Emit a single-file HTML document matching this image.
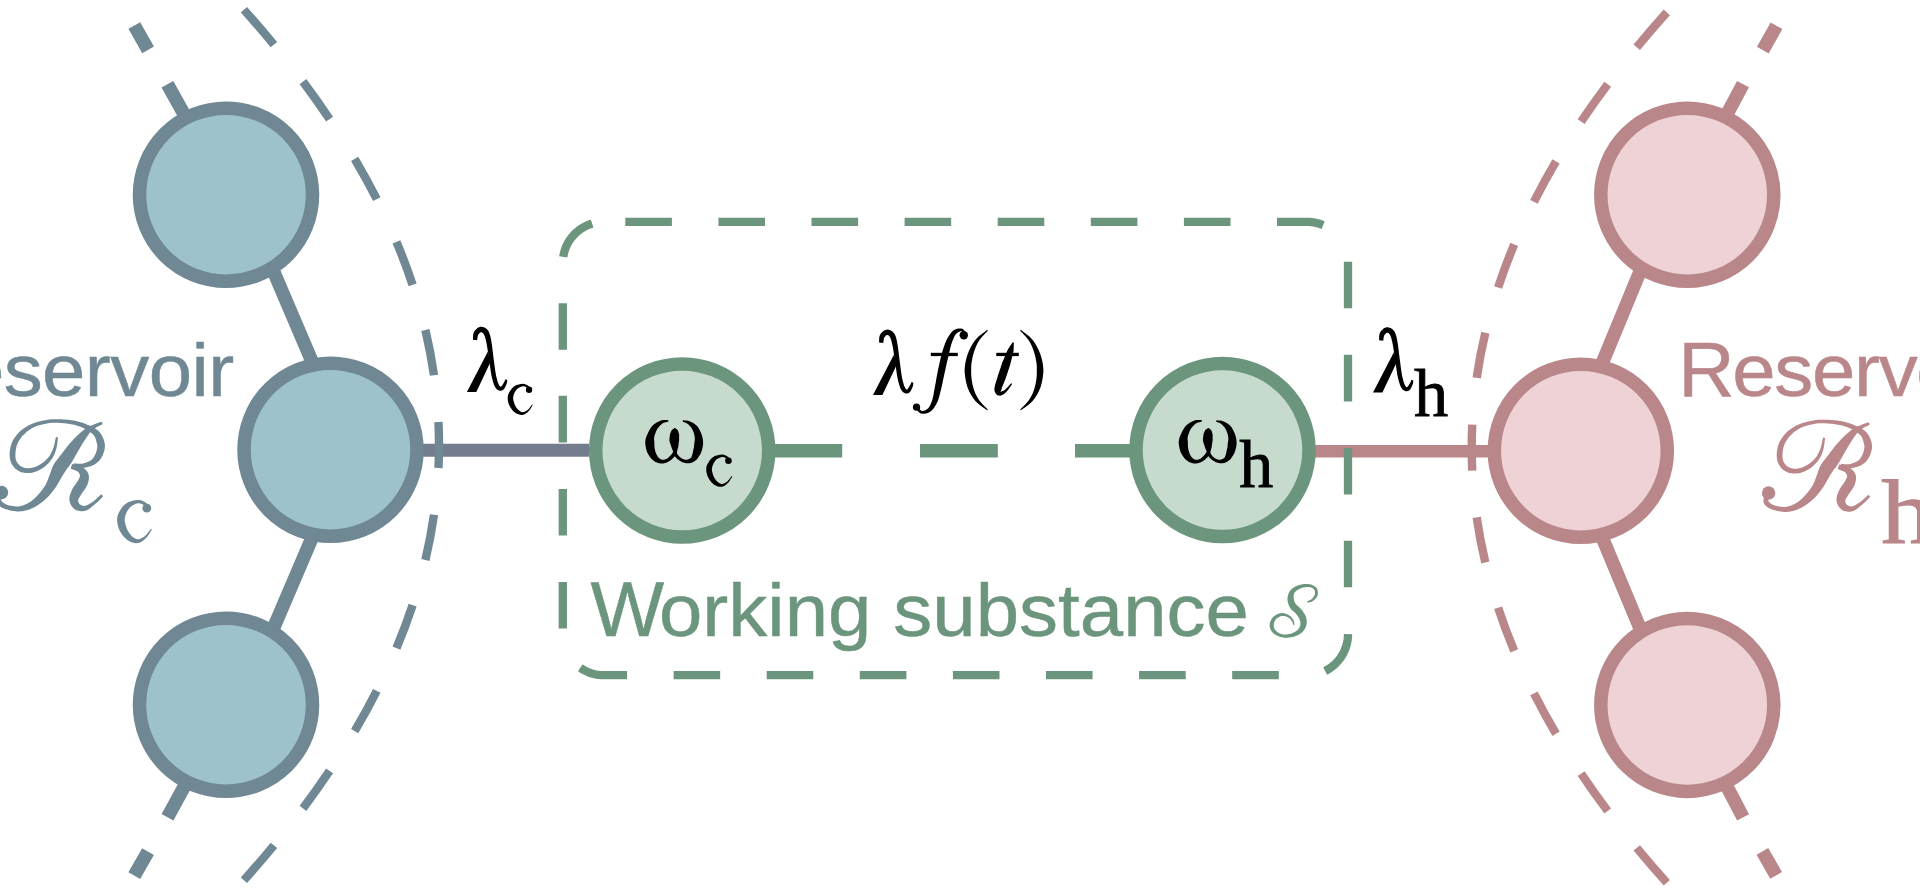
<!DOCTYPE html><html><head><meta charset="utf-8"><style>html,body{margin:0;padding:0;background:#fff;overflow:hidden}svg{display:block}</style></head><body><svg width="1920" height="891" viewBox="0 0 1920 891">
<rect width="1920" height="891" fill="#fff"/>
<path d="M423 450.3H589" stroke="#737d8e" stroke-width="13"/>
<g fill="none" stroke="#6f8893" stroke-width="8.4" stroke-dasharray="46 47" stroke-dashoffset="23">
<path d="M439 445 Q439 210 211.47 -25"/><path d="M439 445 Q439 680 211.47 915"/></g>
<g stroke="#6f8893" stroke-width="13.5" fill="none">
<path d="M240.8 194.7L349.7 449.7L240.8 704.7"/>
<path d="M229 194.7L167.4 84.3M148.1 49.9L134.3 25.5"/>
<path d="M229 704.7L167.5 817.3M148 851.7L134.3 875.7"/>
</g>
<circle cx="226" cy="194.7" r="86.5" fill="#9ec2cb" stroke="#6f8893" stroke-width="13.5"/>
<circle cx="330.5" cy="449.7" r="86.5" fill="#9ec2cb" stroke="#6f8893" stroke-width="13.5"/>
<circle cx="226" cy="704.7" r="86.5" fill="#9ec2cb" stroke="#6f8893" stroke-width="13.5"/>
<g fill="none" stroke="#b9878a" stroke-width="8.4" stroke-dasharray="46 47" stroke-dashoffset="23">
<path d="M1471.7 447.6 Q1471.7 212.6 1699.23 -22.4"/><path d="M1471.7 447.6 Q1471.7 682.6 1699.23 917.6"/></g>
<g stroke="#b9878a" stroke-width="13.5" fill="none">
<path d="M1671.8 194.7L1566 450.7L1672 704.9"/>
<path d="M1684 194.7L1743 84.1M1762.8 50.1L1776.5 25.7"/>
<path d="M1684 704.9L1743.1 817.3M1762.4 851.3L1776.1 875.4"/>
</g>
<path d="M1315 451.2H1488" stroke="#b9878a" stroke-width="12.5"/>
<circle cx="1687.3" cy="194.7" r="86.5" fill="#eed2d5" stroke="#b9878a" stroke-width="13.5"/>
<circle cx="1580.8" cy="450.7" r="86.5" fill="#eed2d5" stroke="#b9878a" stroke-width="13.5"/>
<circle cx="1687.3" cy="704.9" r="86.5" fill="#eed2d5" stroke="#b9878a" stroke-width="13.5"/>
<path d="M775 450.8H842.2M920 450.8H997.8M1075 450.8H1130" stroke="#6b957c" stroke-width="13.5"/>
<circle cx="682.2" cy="450.5" r="86.5" fill="#c6dbce" stroke="#6b957c" stroke-width="13.5"/>
<circle cx="1222.5" cy="450" r="86.5" fill="#c6dbce" stroke="#6b957c" stroke-width="13.5"/>
<path d="M563.24 256.92 L563.58 254.93 L564.03 252.95 L564.57 251 L565.2 249.07 L565.93 247.18 L566.75 245.33 L567.67 243.52 L568.67 241.76 L569.76 240.05 L570.93 238.4 L572.18 236.8 L573.5 235.27 L574.91 233.81 L576.38 232.42 L577.92 231.1 L579.52 229.86 L581.18 228.7 L582.9 227.63 L584.67 226.64 L586.48 225.74 L588.34 224.93 L590.23 224.21 L592.16 223.59M625.3 221.9 L627.33 221.9 L629.35 221.9 L631.38 221.9 L633.4 221.9 L635.43 221.9 L637.46 221.9 L639.48 221.9 L641.51 221.9 L643.53 221.9 L645.56 221.9 L647.59 221.9 L649.61 221.9 L651.64 221.9 L653.67 221.9 L655.69 221.9 L657.72 221.9 L659.74 221.9 L661.77 221.9 L663.8 221.9 L665.82 221.9 L667.85 221.9 L669.87 221.9 L671.9 221.9M718.4 221.9 L720.43 221.9 L722.45 221.9 L724.48 221.9 L726.5 221.9 L728.53 221.9 L730.56 221.9 L732.58 221.9 L734.61 221.9 L736.63 221.9 L738.66 221.9 L740.69 221.9 L742.71 221.9 L744.74 221.9 L746.77 221.9 L748.79 221.9 L750.82 221.9 L752.84 221.9 L754.87 221.9 L756.9 221.9 L758.92 221.9 L760.95 221.9 L762.97 221.9 L765 221.9M811.5 221.9 L813.53 221.9 L815.55 221.9 L817.58 221.9 L819.6 221.9 L821.63 221.9 L823.66 221.9 L825.68 221.9 L827.71 221.9 L829.73 221.9 L831.76 221.9 L833.79 221.9 L835.81 221.9 L837.84 221.9 L839.87 221.9 L841.89 221.9 L843.92 221.9 L845.94 221.9 L847.97 221.9 L850 221.9 L852.02 221.9 L854.05 221.9 L856.07 221.9 L858.1 221.9M904.6 221.9 L906.63 221.9 L908.65 221.9 L910.68 221.9 L912.7 221.9 L914.73 221.9 L916.76 221.9 L918.78 221.9 L920.81 221.9 L922.83 221.9 L924.86 221.9 L926.89 221.9 L928.91 221.9 L930.94 221.9 L932.97 221.9 L934.99 221.9 L937.02 221.9 L939.04 221.9 L941.07 221.9 L943.1 221.9 L945.12 221.9 L947.15 221.9 L949.17 221.9 L951.2 221.9M997.7 221.9 L999.73 221.9 L1001.75 221.9 L1003.78 221.9 L1005.8 221.9 L1007.83 221.9 L1009.86 221.9 L1011.88 221.9 L1013.91 221.9 L1015.93 221.9 L1017.96 221.9 L1019.99 221.9 L1022.01 221.9 L1024.04 221.9 L1026.07 221.9 L1028.09 221.9 L1030.12 221.9 L1032.14 221.9 L1034.17 221.9 L1036.2 221.9 L1038.22 221.9 L1040.25 221.9 L1042.27 221.9 L1044.3 221.9M1090.8 221.9 L1092.83 221.9 L1094.85 221.9 L1096.88 221.9 L1098.9 221.9 L1100.93 221.9 L1102.96 221.9 L1104.98 221.9 L1107.01 221.9 L1109.03 221.9 L1111.06 221.9 L1113.09 221.9 L1115.11 221.9 L1117.14 221.9 L1119.17 221.9 L1121.19 221.9 L1123.22 221.9 L1125.24 221.9 L1127.27 221.9 L1129.3 221.9 L1131.32 221.9 L1133.35 221.9 L1135.37 221.9 L1137.4 221.9M1183.9 221.9 L1185.93 221.9 L1187.95 221.9 L1189.98 221.9 L1192 221.9 L1194.03 221.9 L1196.06 221.9 L1198.08 221.9 L1200.11 221.9 L1202.13 221.9 L1204.16 221.9 L1206.19 221.9 L1208.21 221.9 L1210.24 221.9 L1212.27 221.9 L1214.29 221.9 L1216.32 221.9 L1218.34 221.9 L1220.37 221.9 L1222.4 221.9 L1224.42 221.9 L1226.45 221.9 L1228.47 221.9 L1230.5 221.9M1277 221.9 L1279.03 221.9 L1281.05 221.9 L1283.08 221.9 L1285.1 221.9 L1287.13 221.9 L1289.16 221.9 L1291.18 221.9 L1293.21 221.9 L1295.23 221.9 L1297.26 221.9 L1299.29 221.9 L1301.31 221.9 L1303.34 221.9 L1305.37 221.9 L1307.39 221.9 L1309.42 221.97 L1311.43 222.14 L1313.44 222.41 L1315.43 222.78 L1317.41 223.24 L1319.35 223.81 L1321.27 224.46 L1323.15 225.21M1347.98 261.7 L1348 263.73 L1348 265.75 L1348 267.78 L1348 269.8 L1348 271.83 L1348 273.86 L1348 275.88 L1348 277.91 L1348 279.93 L1348 281.96 L1348 283.99 L1348 286.01 L1348 288.04 L1348 290.07 L1348 292.09 L1348 294.12 L1348 296.14 L1348 298.17 L1348 300.2 L1348 302.22 L1348 304.25 L1348 306.27 L1348 308.3M1348 354.8 L1348 356.83 L1348 358.85 L1348 360.88 L1348 362.9 L1348 364.93 L1348 366.96 L1348 368.98 L1348 371.01 L1348 373.03 L1348 375.06 L1348 377.09 L1348 379.11 L1348 381.14 L1348 383.17 L1348 385.19 L1348 387.22 L1348 389.24 L1348 391.27 L1348 393.3 L1348 395.32 L1348 397.35 L1348 399.37 L1348 401.4M1348 447.9 L1348 449.93 L1348 451.95 L1348 453.98 L1348 456 L1348 458.03 L1348 460.06 L1348 462.08 L1348 464.11 L1348 466.13 L1348 468.16 L1348 470.19 L1348 472.21 L1348 474.24 L1348 476.27 L1348 478.29 L1348 480.32 L1348 482.34 L1348 484.37 L1348 486.4 L1348 488.42 L1348 490.45 L1348 492.47 L1348 494.5M1348 540.7 L1348 542.73 L1348 544.75 L1348 546.78 L1348 548.8 L1348 550.83 L1348 552.86 L1348 554.88 L1348 556.91 L1348 558.93 L1348 560.96 L1348 562.99 L1348 565.01 L1348 567.04 L1348 569.07 L1348 571.09 L1348 573.12 L1348 575.14 L1348 577.17 L1348 579.2 L1348 581.22 L1348 583.25 L1348 585.27 L1348 587.3M1348 634.2 L1347.95 636.27 L1347.79 638.34 L1347.53 640.39 L1347.16 642.43 L1346.7 644.45 L1346.13 646.45 L1345.46 648.41 L1344.69 650.33 L1343.83 652.22 L1342.87 654.06 L1341.82 655.84 L1340.68 657.57 L1339.46 659.25 L1338.15 660.86 L1336.77 662.4 L1335.3 663.86 L1333.77 665.26 L1332.16 666.57 L1330.5 667.8 L1328.77 668.94 L1326.99 670 L1325.15 670.96M1278.8 675.2 L1276.77 675.2 L1274.75 675.2 L1272.72 675.2 L1270.7 675.2 L1268.67 675.2 L1266.64 675.2 L1264.62 675.2 L1262.59 675.2 L1260.57 675.2 L1258.54 675.2 L1256.51 675.2 L1254.49 675.2 L1252.46 675.2 L1250.43 675.2 L1248.41 675.2 L1246.38 675.2 L1244.36 675.2 L1242.33 675.2 L1240.3 675.2 L1238.28 675.2 L1236.25 675.2 L1234.23 675.2 L1232.2 675.2M1185.7 675.2 L1183.67 675.2 L1181.65 675.2 L1179.62 675.2 L1177.6 675.2 L1175.57 675.2 L1173.54 675.2 L1171.52 675.2 L1169.49 675.2 L1167.47 675.2 L1165.44 675.2 L1163.41 675.2 L1161.39 675.2 L1159.36 675.2 L1157.33 675.2 L1155.31 675.2 L1153.28 675.2 L1151.26 675.2 L1149.23 675.2 L1147.2 675.2 L1145.18 675.2 L1143.15 675.2 L1141.13 675.2 L1139.1 675.2M1092.6 675.2 L1090.57 675.2 L1088.55 675.2 L1086.52 675.2 L1084.5 675.2 L1082.47 675.2 L1080.44 675.2 L1078.42 675.2 L1076.39 675.2 L1074.37 675.2 L1072.34 675.2 L1070.31 675.2 L1068.29 675.2 L1066.26 675.2 L1064.23 675.2 L1062.21 675.2 L1060.18 675.2 L1058.16 675.2 L1056.13 675.2 L1054.1 675.2 L1052.08 675.2 L1050.05 675.2 L1048.03 675.2 L1046 675.2M999.5 675.2 L997.47 675.2 L995.45 675.2 L993.42 675.2 L991.4 675.2 L989.37 675.2 L987.34 675.2 L985.32 675.2 L983.29 675.2 L981.27 675.2 L979.24 675.2 L977.21 675.2 L975.19 675.2 L973.16 675.2 L971.13 675.2 L969.11 675.2 L967.08 675.2 L965.06 675.2 L963.03 675.2 L961 675.2 L958.98 675.2 L956.95 675.2 L954.93 675.2 L952.9 675.2M906.4 675.2 L904.37 675.2 L902.35 675.2 L900.32 675.2 L898.3 675.2 L896.27 675.2 L894.24 675.2 L892.22 675.2 L890.19 675.2 L888.17 675.2 L886.14 675.2 L884.11 675.2 L882.09 675.2 L880.06 675.2 L878.03 675.2 L876.01 675.2 L873.98 675.2 L871.96 675.2 L869.93 675.2 L867.9 675.2 L865.88 675.2 L863.85 675.2 L861.83 675.2 L859.8 675.2M813.3 675.2 L811.27 675.2 L809.25 675.2 L807.22 675.2 L805.2 675.2 L803.17 675.2 L801.14 675.2 L799.12 675.2 L797.09 675.2 L795.07 675.2 L793.04 675.2 L791.01 675.2 L788.99 675.2 L786.96 675.2 L784.93 675.2 L782.91 675.2 L780.88 675.2 L778.86 675.2 L776.83 675.2 L774.8 675.2 L772.78 675.2 L770.75 675.2 L768.73 675.2 L766.7 675.2M720.2 675.2 L718.17 675.2 L716.15 675.2 L714.12 675.2 L712.1 675.2 L710.07 675.2 L708.04 675.2 L706.02 675.2 L703.99 675.2 L701.97 675.2 L699.94 675.2 L697.91 675.2 L695.89 675.2 L693.86 675.2 L691.83 675.2 L689.81 675.2 L687.78 675.2 L685.76 675.2 L683.73 675.2 L681.7 675.2 L679.68 675.2 L677.65 675.2 L675.63 675.2 L673.6 675.2M627.1 675.2 L625.09 675.2 L623.07 675.2 L621.06 675.2 L619.05 675.2 L617.04 675.2 L615.02 675.2 L613.01 675.2 L611 675.2 L608.99 675.2 L606.98 675.2 L604.96 675.2 L602.95 675.19 L600.94 675.1 L598.94 674.91 L596.94 674.62 L594.97 674.24 L593.02 673.76 L591.09 673.18 L589.19 672.51 L587.33 671.75 L585.51 670.89 L583.73 669.95 L582 668.92 L580.32 667.81M562.8 628.6 L562.8 626.57 L562.8 624.55 L562.8 622.52 L562.8 620.5 L562.8 618.47 L562.8 616.44 L562.8 614.42 L562.8 612.39 L562.8 610.37 L562.8 608.34 L562.8 606.31 L562.8 604.29 L562.8 602.26 L562.8 600.23 L562.8 598.21 L562.8 596.18 L562.8 594.16 L562.8 592.13 L562.8 590.1 L562.8 588.08 L562.8 586.05 L562.8 584.03 L562.8 582M562.8 535.6 L562.8 533.57 L562.8 531.55 L562.8 529.52 L562.8 527.5 L562.8 525.47 L562.8 523.44 L562.8 521.42 L562.8 519.39 L562.8 517.37 L562.8 515.34 L562.8 513.31 L562.8 511.29 L562.8 509.26 L562.8 507.23 L562.8 505.21 L562.8 503.18 L562.8 501.16 L562.8 499.13 L562.8 497.1 L562.8 495.08 L562.8 493.05 L562.8 491.03 L562.8 489M562.8 442.4 L562.8 440.37 L562.8 438.35 L562.8 436.32 L562.8 434.3 L562.8 432.27 L562.8 430.24 L562.8 428.22 L562.8 426.19 L562.8 424.17 L562.8 422.14 L562.8 420.11 L562.8 418.09 L562.8 416.06 L562.8 414.03 L562.8 412.01 L562.8 409.98 L562.8 407.96 L562.8 405.93 L562.8 403.9 L562.8 401.88 L562.8 399.85 L562.8 397.83 L562.8 395.8M562.8 349.8 L562.8 347.77 L562.8 345.75 L562.8 343.72 L562.8 341.7 L562.8 339.67 L562.8 337.64 L562.8 335.62 L562.8 333.59 L562.8 331.57 L562.8 329.54 L562.8 327.51 L562.8 325.49 L562.8 323.46 L562.8 321.43 L562.8 319.41 L562.8 317.38 L562.8 315.36 L562.8 313.33 L562.8 311.3 L562.8 309.28 L562.8 307.25 L562.8 305.23 L562.8 303.2" fill="none" stroke="#6b957c" stroke-width="8.3"/>
<g font-family='"Liberation Sans", sans-serif' font-size="78" stroke-width="0.5">
<text x="-94.84" y="396.3" letter-spacing="-0.59" fill="#6f8893" stroke="#6f8893" transform="translate(0 396.3) scale(1 0.955) translate(0 -396.3)">Reservoir</text>
<text x="1678.25" y="395.6" fill="#b9878a" stroke="#b9878a">R</text>
<text x="1732.34" y="395.6" letter-spacing="-1.335" fill="#b9878a" stroke="#b9878a" transform="translate(0 395.6) scale(1 0.955) translate(0 -395.6)">eservoir</text>
<text x="590.4" y="636.3" fill="#6b957c" stroke="#6b957c">W</text>
<text x="658.95" y="636.3" letter-spacing="0.03" fill="#6b957c" stroke="#6b957c" transform="translate(0 636.3) scale(1 0.955) translate(0 -636.3)">orking substance</text>
</g>
<g transform="translate(-1767.1 -0.5)" fill="#6f8893"><path d="M1823.05 437.6 L1822.71 439.09 L1822.39 440.6 L1822.08 442.11 L1821.77 443.6 L1821.44 445.06 L1821.08 446.47 L1820.67 447.82 L1820.21 449.11 L1819.72 450.38 L1819.2 451.62 L1818.65 452.82 L1818.07 453.97 L1817.44 455.08 L1816.76 456.16 L1816.02 457.2 L1815.21 458.21 L1814.3 459.22 L1813.3 460.24 L1812.22 461.24 L1811.08 462.22 L1809.91 463.14 L1808.72 464.01 L1807.52 464.79 L1806.35 465.48 L1805.18 466.11 L1803.98 466.69 L1802.75 467.22 L1801.51 467.67 L1800.28 468.06 L1799.07 468.36 L1797.9 468.58 L1796.78 468.7 L1795.66 468.74 L1794.51 468.71 L1793.36 468.59 L1792.23 468.4 L1791.13 468.15 L1790.1 467.82 L1789.15 467.45 L1788.32 467.03 L1787.56 466.55 L1786.82 465.97 L1786.11 465.32 L1785.44 464.59 L1784.82 463.81 L1784.27 463 L1783.79 462.17 L1783.4 461.36 L1783.09 460.56 L1782.86 459.7 L1782.68 458.79 L1782.57 457.82 L1782.5 456.79 L1782.49 455.72 L1782.53 454.62 L1782.61 453.49 L1782.68 452.33 L1782.79 451.13 L1782.96 449.92 L1783.17 448.7 L1783.45 447.49 L1783.79 446.29 L1784.19 445.13 L1784.67 443.99 L1785.23 442.81 L1785.88 441.6 L1786.6 440.39 L1787.4 439.19 L1788.26 438 L1789.19 436.85 L1790.17 435.74 L1791.22 434.68 L1792.33 433.63 L1793.52 432.6 L1794.78 431.6 L1796.11 430.63 L1797.5 429.7 L1798.96 428.83 L1800.46 428.01 L1802.02 427.26 L1803.68 426.61 L1805.47 426.01 L1807.35 425.46 L1809.28 424.96 L1811.24 424.52 L1813.19 424.13 L1815.09 423.8 L1816.91 423.52 L1818.65 423.36 L1820.36 423.27 L1822.04 423.25 L1823.71 423.28 L1825.36 423.35 L1827 423.45 L1828.64 423.57 L1830.26 423.7 L1831.86 423.84 L1833.43 424.01 L1834.99 424.21 L1836.52 424.44 L1838.02 424.69 L1839.49 424.97 L1840.92 425.28 L1842.32 425.62 L1843.67 426 L1844.97 426.4 L1846.24 426.83 L1847.47 427.29 L1848.68 427.78 L1849.87 428.3 L1851.06 428.86 L1852.25 429.47 L1853.46 430.17 L1854.71 430.93 L1855.95 431.72 L1857.16 432.53 L1858.3 433.36 L1859.32 434.19 L1860.2 434.99 L1860.9 435.73 L1861.43 436.43 L1861.86 437.15 L1862.22 437.88 L1862.53 438.65 L1862.8 439.45 L1863.04 440.3 L1863.27 441.19 L1863.48 442.1 L1863.75 442.92 L1863.97 443.68 L1864.14 444.4 L1864.27 445.09 L1864.35 445.77 L1864.39 446.44 L1864.38 447.13 L1864.32 447.86 L1864.24 448.68 L1864.09 449.6 L1863.88 450.59 L1863.62 451.59 L1863.31 452.59 L1862.96 453.55 L1862.59 454.45 L1862.19 455.26 L1861.8 456.07 L1861.38 456.85 L1860.93 457.59 L1860.45 458.29 L1859.92 458.95 L1859.35 459.58 L1858.72 460.17 L1858.01 460.73 L1857.19 461.27 L1856.22 461.79 L1855.14 462.3 L1853.98 462.77 L1852.78 463.19 L1851.58 463.57 L1850.42 463.89 L1849.34 464.14 L1848.36 464.27 L1847.4 464.32 L1846.42 464.31 L1845.41 464.24 L1844.37 464.14 L1843.29 464.03 L1842.17 463.93 L1841.06 463.87 L1840.74 467.33 L1841.79 467.47 L1842.81 467.64 L1843.86 467.83 L1844.95 468.02 L1846.1 468.19 L1847.3 468.3 L1848.56 468.33 L1849.86 468.26 L1851.18 468.13 L1852.55 467.94 L1853.96 467.69 L1855.39 467.37 L1856.8 466.99 L1858.19 466.55 L1859.53 466.05 L1860.79 465.47 L1861.96 464.83 L1863.05 464.11 L1864.07 463.34 L1865.02 462.51 L1865.9 461.63 L1866.72 460.7 L1867.48 459.75 L1868.21 458.74 L1868.87 457.61 L1869.48 456.4 L1870.03 455.15 L1870.53 453.87 L1870.97 452.58 L1871.35 451.28 L1871.65 450 L1871.88 448.74 L1871.99 447.5 L1872 446.28 L1871.94 445.09 L1871.8 443.94 L1871.59 442.83 L1871.34 441.76 L1871.04 440.71 L1870.72 439.7 L1870.3 438.74 L1869.86 437.75 L1869.35 436.69 L1868.77 435.6 L1868.09 434.5 L1867.3 433.39 L1866.37 432.3 L1865.3 431.27 L1864.11 430.31 L1862.82 429.43 L1861.46 428.59 L1860.05 427.8 L1858.61 427.06 L1857.16 426.36 L1855.73 425.72 L1854.35 425.13 L1853.01 424.55 L1851.66 424.01 L1850.31 423.52 L1848.95 423.06 L1847.58 422.64 L1846.18 422.26 L1844.75 421.91 L1843.28 421.58 L1841.78 421.27 L1840.24 420.98 L1838.67 420.72 L1837.08 420.5 L1835.47 420.31 L1833.84 420.14 L1832.19 420.01 L1830.54 419.9 L1828.88 419.81 L1827.21 419.73 L1825.5 419.67 L1823.77 419.64 L1822 419.65 L1820.19 419.72 L1818.35 419.86 L1816.49 420.08 L1814.57 420.32 L1812.57 420.63 L1810.53 420.99 L1808.47 421.41 L1806.41 421.9 L1804.39 422.45 L1802.44 423.06 L1800.58 423.74 L1798.8 424.45 L1797.07 425.23 L1795.4 426.08 L1793.79 427 L1792.24 427.96 L1790.75 428.98 L1789.33 430.03 L1787.98 431.12 L1786.7 432.29 L1785.48 433.52 L1784.33 434.81 L1783.25 436.13 L1782.25 437.48 L1781.33 438.85 L1780.49 440.22 L1779.73 441.61 L1779.06 443.06 L1778.5 444.53 L1778.03 446.01 L1777.65 447.49 L1777.34 448.94 L1777.11 450.37 L1776.92 451.76 L1776.79 453.11 L1776.75 454.44 L1776.75 455.77 L1776.81 457.11 L1776.95 458.45 L1777.16 459.78 L1777.46 461.09 L1777.88 462.39 L1778.4 463.64 L1779.03 464.83 L1779.76 465.98 L1780.57 467.08 L1781.47 468.14 L1782.46 469.13 L1783.52 470.04 L1784.67 470.86 L1785.88 471.57 L1787.16 472.16 L1788.5 472.64 L1789.9 473.02 L1791.34 473.31 L1792.8 473.5 L1794.28 473.6 L1795.76 473.6 L1797.22 473.5 L1798.69 473.28 L1800.16 472.97 L1801.62 472.55 L1803.08 472.05 L1804.52 471.47 L1805.93 470.82 L1807.31 470.1 L1808.65 469.32 L1809.96 468.45 L1811.26 467.48 L1812.55 466.44 L1813.8 465.34 L1815.01 464.2 L1816.15 463.01 L1817.22 461.81 L1818.19 460.59 L1819.07 459.35 L1819.85 458.09 L1820.55 456.8 L1821.18 455.5 L1821.75 454.18 L1822.26 452.85 L1822.74 451.49 L1823.19 450.09 L1823.57 448.62 L1823.89 447.11 L1824.14 445.59 L1824.36 444.05 L1824.55 442.52 L1824.73 440.99 L1824.93 439.49 L1825.15 438Z"/><path d="M1868.77 422.13 L1867.82 422.48 L1866.86 422.81 L1865.9 423.15 L1864.92 423.49 L1863.94 423.85 L1862.96 424.22 L1861.98 424.61 L1861.02 425.03 L1860.09 425.38 L1859.18 425.72 L1858.26 426.07 L1857.32 426.46 L1856.34 426.91 L1855.33 427.44 L1854.28 428.07 L1853.19 428.82 L1852.01 429.61 L1850.8 430.5 L1849.59 431.47 L1848.36 432.49 L1847.13 433.55 L1845.92 434.63 L1844.73 435.71 L1843.56 436.78 L1842.45 437.91 L1841.34 439.06 L1840.26 440.23 L1839.19 441.41 L1838.12 442.6 L1837.06 443.81 L1836.01 445.03 L1834.94 446.27 L1833.88 447.61 L1832.81 449 L1831.75 450.41 L1830.7 451.81 L1829.67 453.19 L1828.67 454.51 L1827.71 455.76 L1826.82 456.87 L1826.12 457.85 L1825.46 458.7 L1824.77 459.56 L1824.01 460.51 L1823.16 461.6 L1822.25 462.86 L1821.29 464.32 L1820.27 466.04 L1819.41 468.11 L1818.56 470.35 L1817.72 472.67 L1816.89 475.03 L1816.06 477.35 L1815.25 479.57 L1814.46 481.58 L1813.7 483.35 L1812.85 484.91 L1811.98 486.4 L1811.11 487.78 L1810.24 489.1 L1809.34 490.36 L1808.4 491.59 L1807.4 492.81 L1806.34 494.04 L1805.22 495.29 L1804.06 496.52 L1802.86 497.73 L1801.63 498.89 L1800.39 499.99 L1799.14 501.01 L1797.89 501.95 L1796.64 502.78 L1795.35 503.54 L1794.02 504.24 L1792.67 504.87 L1791.29 505.43 L1789.9 505.92 L1788.5 506.33 L1787.11 506.66 L1785.74 506.91 L1784.34 506.97 L1782.86 506.93 L1781.31 506.79 L1779.75 506.57 L1778.22 506.29 L1776.75 505.98 L1775.4 505.64 L1774.2 505.32 L1773.21 504.93 L1772.33 504.52 L1771.55 504.08 L1770.86 503.62 L1770.25 503.16 L1769.73 502.69 L1769.29 502.24 L1768.95 501.83 L1768.72 501.57 L1768.58 501.37 L1768.48 501.17 L1768.4 500.93 L1768.35 500.62 L1768.32 500.24 L1768.32 499.77 L1768.34 499.32 L1768.36 498.94 L1768.44 498.52 L1768.59 498.02 L1768.8 497.46 L1769.05 496.84 L1769.33 496.18 L1769.61 495.48 L1769.86 494.8 L1766.14 493.2 L1765.85 493.78 L1765.53 494.35 L1765.18 494.96 L1764.82 495.61 L1764.47 496.3 L1764.13 497.05 L1763.85 497.86 L1763.66 498.68 L1763.56 499.41 L1763.5 500.11 L1763.48 500.87 L1763.53 501.69 L1763.7 502.57 L1764.01 503.47 L1764.47 504.36 L1765.05 505.17 L1765.73 505.84 L1766.47 506.48 L1767.3 507.1 L1768.21 507.7 L1769.22 508.27 L1770.33 508.8 L1771.53 509.28 L1772.8 509.68 L1774.14 510.11 L1775.62 510.53 L1777.22 510.93 L1778.92 511.29 L1780.68 511.59 L1782.48 511.81 L1784.29 511.92 L1786.06 511.89 L1787.79 511.82 L1789.52 511.64 L1791.25 511.36 L1792.97 510.99 L1794.69 510.53 L1796.4 509.98 L1798.09 509.34 L1799.76 508.62 L1801.43 507.79 L1803.09 506.85 L1804.72 505.83 L1806.32 504.74 L1807.87 503.59 L1809.39 502.4 L1810.85 501.18 L1812.26 499.96 L1813.61 498.72 L1814.92 497.46 L1816.19 496.15 L1817.44 494.79 L1818.66 493.36 L1819.87 491.84 L1821.07 490.22 L1822.3 488.45 L1823.65 486.49 L1824.98 484.33 L1826.27 482.1 L1827.52 479.86 L1828.73 477.69 L1829.89 475.68 L1830.96 473.95 L1831.93 472.56 L1832.63 471.4 L1833.26 470.43 L1833.86 469.6 L1834.48 468.81 L1835.17 467.95 L1835.96 466.97 L1836.84 465.83 L1837.78 464.53 L1838.62 463.09 L1839.46 461.63 L1840.3 460.15 L1841.15 458.65 L1842 457.16 L1842.83 455.69 L1843.65 454.28 L1844.46 452.93 L1845.23 451.57 L1846.01 450.22 L1846.78 448.89 L1847.54 447.59 L1848.3 446.32 L1849.07 445.07 L1849.85 443.84 L1850.64 442.62 L1851.43 441.34 L1852.25 440.05 L1853.08 438.77 L1853.92 437.51 L1854.74 436.31 L1855.54 435.17 L1856.3 434.12 L1857.01 433.18 L1857.73 432.42 L1858.41 431.75 L1859.08 431.15 L1859.76 430.58 L1860.46 430.04 L1861.19 429.5 L1861.97 428.95 L1862.78 428.37 L1863.61 427.85 L1864.45 427.36 L1865.32 426.87 L1866.2 426.4 L1867.1 425.92 L1868.01 425.44 L1868.92 424.96 L1869.83 424.47Z"/><path d="M1837.74 469.08 L1838.86 469.56 L1840.03 470 L1841.18 470.43 L1842.26 470.84 L1843.25 471.25 L1844.1 471.67 L1844.78 472.09 L1845.29 472.52 L1845.73 473.06 L1846.16 473.66 L1846.53 474.28 L1846.81 474.89 L1847.01 475.48 L1847.11 476.01 L1847.12 476.46 L1847.05 476.78 L1846.98 477.04 L1846.87 477.36 L1846.71 477.78 L1846.48 478.32 L1846.18 478.95 L1845.81 479.67 L1845.37 480.47 L1844.92 481.23 L1844.55 481.95 L1844.05 482.75 L1843.41 483.69 L1842.66 484.73 L1841.85 485.85 L1841.01 487.04 L1840.18 488.32 L1839.45 489.58 L1838.94 490.75 L1838.46 491.87 L1837.97 493.04 L1837.5 494.28 L1837.07 495.6 L1836.72 497 L1836.5 498.5 L1836.48 500.06 L1836.66 501.55 L1837 502.94 L1837.48 504.27 L1838.08 505.53 L1838.8 506.73 L1839.65 507.85 L1840.63 508.87 L1841.73 509.75 L1842.94 510.4 L1844.18 510.9 L1845.49 511.28 L1846.85 511.55 L1848.24 511.69 L1849.67 511.68 L1851.1 511.51 L1852.52 511.15 L1853.9 510.64 L1855.23 509.96 L1856.51 509.15 L1857.75 508.27 L1858.95 507.33 L1860.12 506.37 L1861.23 505.41 L1862.29 504.49 L1863.38 503.6 L1864.44 502.66 L1865.46 501.69 L1866.44 500.71 L1867.41 499.72 L1868.37 498.75 L1869.32 497.79 L1870.28 496.84 L1868.32 494.76 L1867.3 495.69 L1866.29 496.64 L1865.3 497.58 L1864.32 498.52 L1863.33 499.42 L1862.35 500.3 L1861.34 501.13 L1860.31 501.91 L1859.16 502.66 L1857.96 503.44 L1856.75 504.19 L1855.55 504.89 L1854.39 505.5 L1853.29 505.98 L1852.31 506.3 L1851.48 506.45 L1850.71 506.4 L1849.92 506.26 L1849.13 506.02 L1848.38 505.7 L1847.68 505.32 L1847.07 504.89 L1846.58 504.45 L1846.27 504.05 L1846.04 503.71 L1845.82 503.3 L1845.61 502.79 L1845.43 502.23 L1845.31 501.64 L1845.24 501.06 L1845.25 500.53 L1845.32 500.14 L1845.44 499.82 L1845.64 499.4 L1845.92 498.83 L1846.31 498.14 L1846.79 497.35 L1847.35 496.48 L1847.96 495.52 L1848.55 494.62 L1849.03 493.77 L1849.62 492.89 L1850.32 491.89 L1851.1 490.81 L1851.93 489.65 L1852.77 488.42 L1853.58 487.1 L1854.28 485.77 L1854.73 484.53 L1855.11 483.35 L1855.46 482.14 L1855.76 480.87 L1855.97 479.54 L1856.07 478.14 L1856.01 476.69 L1855.75 475.22 L1855.24 473.84 L1854.6 472.6 L1853.84 471.48 L1852.99 470.46 L1852.07 469.53 L1851.08 468.7 L1850.04 467.96 L1848.91 467.28 L1847.68 466.64 L1846.4 466.15 L1845.13 465.78 L1843.88 465.49 L1842.65 465.24 L1841.47 465.01 L1840.35 464.78 L1839.26 464.52Z"/><circle cx="1768.6" cy="493" r="6.7"/></g>
<g transform="translate(0 0)" fill="#b9878a"><path d="M1823.05 437.6 L1822.71 439.09 L1822.39 440.6 L1822.08 442.11 L1821.77 443.6 L1821.44 445.06 L1821.08 446.47 L1820.67 447.82 L1820.21 449.11 L1819.72 450.38 L1819.2 451.62 L1818.65 452.82 L1818.07 453.97 L1817.44 455.08 L1816.76 456.16 L1816.02 457.2 L1815.21 458.21 L1814.3 459.22 L1813.3 460.24 L1812.22 461.24 L1811.08 462.22 L1809.91 463.14 L1808.72 464.01 L1807.52 464.79 L1806.35 465.48 L1805.18 466.11 L1803.98 466.69 L1802.75 467.22 L1801.51 467.67 L1800.28 468.06 L1799.07 468.36 L1797.9 468.58 L1796.78 468.7 L1795.66 468.74 L1794.51 468.71 L1793.36 468.59 L1792.23 468.4 L1791.13 468.15 L1790.1 467.82 L1789.15 467.45 L1788.32 467.03 L1787.56 466.55 L1786.82 465.97 L1786.11 465.32 L1785.44 464.59 L1784.82 463.81 L1784.27 463 L1783.79 462.17 L1783.4 461.36 L1783.09 460.56 L1782.86 459.7 L1782.68 458.79 L1782.57 457.82 L1782.5 456.79 L1782.49 455.72 L1782.53 454.62 L1782.61 453.49 L1782.68 452.33 L1782.79 451.13 L1782.96 449.92 L1783.17 448.7 L1783.45 447.49 L1783.79 446.29 L1784.19 445.13 L1784.67 443.99 L1785.23 442.81 L1785.88 441.6 L1786.6 440.39 L1787.4 439.19 L1788.26 438 L1789.19 436.85 L1790.17 435.74 L1791.22 434.68 L1792.33 433.63 L1793.52 432.6 L1794.78 431.6 L1796.11 430.63 L1797.5 429.7 L1798.96 428.83 L1800.46 428.01 L1802.02 427.26 L1803.68 426.61 L1805.47 426.01 L1807.35 425.46 L1809.28 424.96 L1811.24 424.52 L1813.19 424.13 L1815.09 423.8 L1816.91 423.52 L1818.65 423.36 L1820.36 423.27 L1822.04 423.25 L1823.71 423.28 L1825.36 423.35 L1827 423.45 L1828.64 423.57 L1830.26 423.7 L1831.86 423.84 L1833.43 424.01 L1834.99 424.21 L1836.52 424.44 L1838.02 424.69 L1839.49 424.97 L1840.92 425.28 L1842.32 425.62 L1843.67 426 L1844.97 426.4 L1846.24 426.83 L1847.47 427.29 L1848.68 427.78 L1849.87 428.3 L1851.06 428.86 L1852.25 429.47 L1853.46 430.17 L1854.71 430.93 L1855.95 431.72 L1857.16 432.53 L1858.3 433.36 L1859.32 434.19 L1860.2 434.99 L1860.9 435.73 L1861.43 436.43 L1861.86 437.15 L1862.22 437.88 L1862.53 438.65 L1862.8 439.45 L1863.04 440.3 L1863.27 441.19 L1863.48 442.1 L1863.75 442.92 L1863.97 443.68 L1864.14 444.4 L1864.27 445.09 L1864.35 445.77 L1864.39 446.44 L1864.38 447.13 L1864.32 447.86 L1864.24 448.68 L1864.09 449.6 L1863.88 450.59 L1863.62 451.59 L1863.31 452.59 L1862.96 453.55 L1862.59 454.45 L1862.19 455.26 L1861.8 456.07 L1861.38 456.85 L1860.93 457.59 L1860.45 458.29 L1859.92 458.95 L1859.35 459.58 L1858.72 460.17 L1858.01 460.73 L1857.19 461.27 L1856.22 461.79 L1855.14 462.3 L1853.98 462.77 L1852.78 463.19 L1851.58 463.57 L1850.42 463.89 L1849.34 464.14 L1848.36 464.27 L1847.4 464.32 L1846.42 464.31 L1845.41 464.24 L1844.37 464.14 L1843.29 464.03 L1842.17 463.93 L1841.06 463.87 L1840.74 467.33 L1841.79 467.47 L1842.81 467.64 L1843.86 467.83 L1844.95 468.02 L1846.1 468.19 L1847.3 468.3 L1848.56 468.33 L1849.86 468.26 L1851.18 468.13 L1852.55 467.94 L1853.96 467.69 L1855.39 467.37 L1856.8 466.99 L1858.19 466.55 L1859.53 466.05 L1860.79 465.47 L1861.96 464.83 L1863.05 464.11 L1864.07 463.34 L1865.02 462.51 L1865.9 461.63 L1866.72 460.7 L1867.48 459.75 L1868.21 458.74 L1868.87 457.61 L1869.48 456.4 L1870.03 455.15 L1870.53 453.87 L1870.97 452.58 L1871.35 451.28 L1871.65 450 L1871.88 448.74 L1871.99 447.5 L1872 446.28 L1871.94 445.09 L1871.8 443.94 L1871.59 442.83 L1871.34 441.76 L1871.04 440.71 L1870.72 439.7 L1870.3 438.74 L1869.86 437.75 L1869.35 436.69 L1868.77 435.6 L1868.09 434.5 L1867.3 433.39 L1866.37 432.3 L1865.3 431.27 L1864.11 430.31 L1862.82 429.43 L1861.46 428.59 L1860.05 427.8 L1858.61 427.06 L1857.16 426.36 L1855.73 425.72 L1854.35 425.13 L1853.01 424.55 L1851.66 424.01 L1850.31 423.52 L1848.95 423.06 L1847.58 422.64 L1846.18 422.26 L1844.75 421.91 L1843.28 421.58 L1841.78 421.27 L1840.24 420.98 L1838.67 420.72 L1837.08 420.5 L1835.47 420.31 L1833.84 420.14 L1832.19 420.01 L1830.54 419.9 L1828.88 419.81 L1827.21 419.73 L1825.5 419.67 L1823.77 419.64 L1822 419.65 L1820.19 419.72 L1818.35 419.86 L1816.49 420.08 L1814.57 420.32 L1812.57 420.63 L1810.53 420.99 L1808.47 421.41 L1806.41 421.9 L1804.39 422.45 L1802.44 423.06 L1800.58 423.74 L1798.8 424.45 L1797.07 425.23 L1795.4 426.08 L1793.79 427 L1792.24 427.96 L1790.75 428.98 L1789.33 430.03 L1787.98 431.12 L1786.7 432.29 L1785.48 433.52 L1784.33 434.81 L1783.25 436.13 L1782.25 437.48 L1781.33 438.85 L1780.49 440.22 L1779.73 441.61 L1779.06 443.06 L1778.5 444.53 L1778.03 446.01 L1777.65 447.49 L1777.34 448.94 L1777.11 450.37 L1776.92 451.76 L1776.79 453.11 L1776.75 454.44 L1776.75 455.77 L1776.81 457.11 L1776.95 458.45 L1777.16 459.78 L1777.46 461.09 L1777.88 462.39 L1778.4 463.64 L1779.03 464.83 L1779.76 465.98 L1780.57 467.08 L1781.47 468.14 L1782.46 469.13 L1783.52 470.04 L1784.67 470.86 L1785.88 471.57 L1787.16 472.16 L1788.5 472.64 L1789.9 473.02 L1791.34 473.31 L1792.8 473.5 L1794.28 473.6 L1795.76 473.6 L1797.22 473.5 L1798.69 473.28 L1800.16 472.97 L1801.62 472.55 L1803.08 472.05 L1804.52 471.47 L1805.93 470.82 L1807.31 470.1 L1808.65 469.32 L1809.96 468.45 L1811.26 467.48 L1812.55 466.44 L1813.8 465.34 L1815.01 464.2 L1816.15 463.01 L1817.22 461.81 L1818.19 460.59 L1819.07 459.35 L1819.85 458.09 L1820.55 456.8 L1821.18 455.5 L1821.75 454.18 L1822.26 452.85 L1822.74 451.49 L1823.19 450.09 L1823.57 448.62 L1823.89 447.11 L1824.14 445.59 L1824.36 444.05 L1824.55 442.52 L1824.73 440.99 L1824.93 439.49 L1825.15 438Z"/><path d="M1868.77 422.13 L1867.82 422.48 L1866.86 422.81 L1865.9 423.15 L1864.92 423.49 L1863.94 423.85 L1862.96 424.22 L1861.98 424.61 L1861.02 425.03 L1860.09 425.38 L1859.18 425.72 L1858.26 426.07 L1857.32 426.46 L1856.34 426.91 L1855.33 427.44 L1854.28 428.07 L1853.19 428.82 L1852.01 429.61 L1850.8 430.5 L1849.59 431.47 L1848.36 432.49 L1847.13 433.55 L1845.92 434.63 L1844.73 435.71 L1843.56 436.78 L1842.45 437.91 L1841.34 439.06 L1840.26 440.23 L1839.19 441.41 L1838.12 442.6 L1837.06 443.81 L1836.01 445.03 L1834.94 446.27 L1833.88 447.61 L1832.81 449 L1831.75 450.41 L1830.7 451.81 L1829.67 453.19 L1828.67 454.51 L1827.71 455.76 L1826.82 456.87 L1826.12 457.85 L1825.46 458.7 L1824.77 459.56 L1824.01 460.51 L1823.16 461.6 L1822.25 462.86 L1821.29 464.32 L1820.27 466.04 L1819.41 468.11 L1818.56 470.35 L1817.72 472.67 L1816.89 475.03 L1816.06 477.35 L1815.25 479.57 L1814.46 481.58 L1813.7 483.35 L1812.85 484.91 L1811.98 486.4 L1811.11 487.78 L1810.24 489.1 L1809.34 490.36 L1808.4 491.59 L1807.4 492.81 L1806.34 494.04 L1805.22 495.29 L1804.06 496.52 L1802.86 497.73 L1801.63 498.89 L1800.39 499.99 L1799.14 501.01 L1797.89 501.95 L1796.64 502.78 L1795.35 503.54 L1794.02 504.24 L1792.67 504.87 L1791.29 505.43 L1789.9 505.92 L1788.5 506.33 L1787.11 506.66 L1785.74 506.91 L1784.34 506.97 L1782.86 506.93 L1781.31 506.79 L1779.75 506.57 L1778.22 506.29 L1776.75 505.98 L1775.4 505.64 L1774.2 505.32 L1773.21 504.93 L1772.33 504.52 L1771.55 504.08 L1770.86 503.62 L1770.25 503.16 L1769.73 502.69 L1769.29 502.24 L1768.95 501.83 L1768.72 501.57 L1768.58 501.37 L1768.48 501.17 L1768.4 500.93 L1768.35 500.62 L1768.32 500.24 L1768.32 499.77 L1768.34 499.32 L1768.36 498.94 L1768.44 498.52 L1768.59 498.02 L1768.8 497.46 L1769.05 496.84 L1769.33 496.18 L1769.61 495.48 L1769.86 494.8 L1766.14 493.2 L1765.85 493.78 L1765.53 494.35 L1765.18 494.96 L1764.82 495.61 L1764.47 496.3 L1764.13 497.05 L1763.85 497.86 L1763.66 498.68 L1763.56 499.41 L1763.5 500.11 L1763.48 500.87 L1763.53 501.69 L1763.7 502.57 L1764.01 503.47 L1764.47 504.36 L1765.05 505.17 L1765.73 505.84 L1766.47 506.48 L1767.3 507.1 L1768.21 507.7 L1769.22 508.27 L1770.33 508.8 L1771.53 509.28 L1772.8 509.68 L1774.14 510.11 L1775.62 510.53 L1777.22 510.93 L1778.92 511.29 L1780.68 511.59 L1782.48 511.81 L1784.29 511.92 L1786.06 511.89 L1787.79 511.82 L1789.52 511.64 L1791.25 511.36 L1792.97 510.99 L1794.69 510.53 L1796.4 509.98 L1798.09 509.34 L1799.76 508.62 L1801.43 507.79 L1803.09 506.85 L1804.72 505.83 L1806.32 504.74 L1807.87 503.59 L1809.39 502.4 L1810.85 501.18 L1812.26 499.96 L1813.61 498.72 L1814.92 497.46 L1816.19 496.15 L1817.44 494.79 L1818.66 493.36 L1819.87 491.84 L1821.07 490.22 L1822.3 488.45 L1823.65 486.49 L1824.98 484.33 L1826.27 482.1 L1827.52 479.86 L1828.73 477.69 L1829.89 475.68 L1830.96 473.95 L1831.93 472.56 L1832.63 471.4 L1833.26 470.43 L1833.86 469.6 L1834.48 468.81 L1835.17 467.95 L1835.96 466.97 L1836.84 465.83 L1837.78 464.53 L1838.62 463.09 L1839.46 461.63 L1840.3 460.15 L1841.15 458.65 L1842 457.16 L1842.83 455.69 L1843.65 454.28 L1844.46 452.93 L1845.23 451.57 L1846.01 450.22 L1846.78 448.89 L1847.54 447.59 L1848.3 446.32 L1849.07 445.07 L1849.85 443.84 L1850.64 442.62 L1851.43 441.34 L1852.25 440.05 L1853.08 438.77 L1853.92 437.51 L1854.74 436.31 L1855.54 435.17 L1856.3 434.12 L1857.01 433.18 L1857.73 432.42 L1858.41 431.75 L1859.08 431.15 L1859.76 430.58 L1860.46 430.04 L1861.19 429.5 L1861.97 428.95 L1862.78 428.37 L1863.61 427.85 L1864.45 427.36 L1865.32 426.87 L1866.2 426.4 L1867.1 425.92 L1868.01 425.44 L1868.92 424.96 L1869.83 424.47Z"/><path d="M1837.74 469.08 L1838.86 469.56 L1840.03 470 L1841.18 470.43 L1842.26 470.84 L1843.25 471.25 L1844.1 471.67 L1844.78 472.09 L1845.29 472.52 L1845.73 473.06 L1846.16 473.66 L1846.53 474.28 L1846.81 474.89 L1847.01 475.48 L1847.11 476.01 L1847.12 476.46 L1847.05 476.78 L1846.98 477.04 L1846.87 477.36 L1846.71 477.78 L1846.48 478.32 L1846.18 478.95 L1845.81 479.67 L1845.37 480.47 L1844.92 481.23 L1844.55 481.95 L1844.05 482.75 L1843.41 483.69 L1842.66 484.73 L1841.85 485.85 L1841.01 487.04 L1840.18 488.32 L1839.45 489.58 L1838.94 490.75 L1838.46 491.87 L1837.97 493.04 L1837.5 494.28 L1837.07 495.6 L1836.72 497 L1836.5 498.5 L1836.48 500.06 L1836.66 501.55 L1837 502.94 L1837.48 504.27 L1838.08 505.53 L1838.8 506.73 L1839.65 507.85 L1840.63 508.87 L1841.73 509.75 L1842.94 510.4 L1844.18 510.9 L1845.49 511.28 L1846.85 511.55 L1848.24 511.69 L1849.67 511.68 L1851.1 511.51 L1852.52 511.15 L1853.9 510.64 L1855.23 509.96 L1856.51 509.15 L1857.75 508.27 L1858.95 507.33 L1860.12 506.37 L1861.23 505.41 L1862.29 504.49 L1863.38 503.6 L1864.44 502.66 L1865.46 501.69 L1866.44 500.71 L1867.41 499.72 L1868.37 498.75 L1869.32 497.79 L1870.28 496.84 L1868.32 494.76 L1867.3 495.69 L1866.29 496.64 L1865.3 497.58 L1864.32 498.52 L1863.33 499.42 L1862.35 500.3 L1861.34 501.13 L1860.31 501.91 L1859.16 502.66 L1857.96 503.44 L1856.75 504.19 L1855.55 504.89 L1854.39 505.5 L1853.29 505.98 L1852.31 506.3 L1851.48 506.45 L1850.71 506.4 L1849.92 506.26 L1849.13 506.02 L1848.38 505.7 L1847.68 505.32 L1847.07 504.89 L1846.58 504.45 L1846.27 504.05 L1846.04 503.71 L1845.82 503.3 L1845.61 502.79 L1845.43 502.23 L1845.31 501.64 L1845.24 501.06 L1845.25 500.53 L1845.32 500.14 L1845.44 499.82 L1845.64 499.4 L1845.92 498.83 L1846.31 498.14 L1846.79 497.35 L1847.35 496.48 L1847.96 495.52 L1848.55 494.62 L1849.03 493.77 L1849.62 492.89 L1850.32 491.89 L1851.1 490.81 L1851.93 489.65 L1852.77 488.42 L1853.58 487.1 L1854.28 485.77 L1854.73 484.53 L1855.11 483.35 L1855.46 482.14 L1855.76 480.87 L1855.97 479.54 L1856.07 478.14 L1856.01 476.69 L1855.75 475.22 L1855.24 473.84 L1854.6 472.6 L1853.84 471.48 L1852.99 470.46 L1852.07 469.53 L1851.08 468.7 L1850.04 467.96 L1848.91 467.28 L1847.68 466.64 L1846.4 466.15 L1845.13 465.78 L1843.88 465.49 L1842.65 465.24 L1841.47 465.01 L1840.35 464.78 L1839.26 464.52Z"/><circle cx="1768.6" cy="493" r="6.7"/></g>
<path d="M1307.68 602.8 L1308.33 602.6 L1308.98 602.44 L1309.66 602.28 L1310.36 602.1 L1311.08 601.89 L1311.81 601.63 L1312.55 601.28 L1313.25 600.84 L1313.9 600.31 L1314.55 599.73 L1315.18 599.09 L1315.79 598.4 L1316.36 597.66 L1316.88 596.88 L1317.31 596.05 L1317.65 595.2 L1317.83 594.31 L1317.92 593.41 L1317.93 592.49 L1317.86 591.56 L1317.7 590.63 L1317.44 589.73 L1317.07 588.86 L1316.58 588.06 L1315.98 587.35 L1315.29 586.73 L1314.52 586.16 L1313.68 585.66 L1312.78 585.23 L1311.83 584.87 L1310.85 584.58 L1309.83 584.37 L1308.77 584.17 L1307.64 584.05 L1306.45 583.98 L1305.22 583.99 L1303.97 584.05 L1302.71 584.19 L1301.46 584.4 L1300.26 584.68 L1299.06 585.04 L1297.84 585.47 L1296.6 585.98 L1295.38 586.55 L1294.19 587.2 L1293.06 587.92 L1292 588.72 L1291.05 589.61 L1290.2 590.58 L1289.48 591.64 L1288.9 592.75 L1288.43 593.88 L1288.06 595.03 L1287.79 596.18 L1287.59 597.3 L1287.45 598.42 L1287.47 599.58 L1287.58 600.77 L1287.78 601.94 L1288.06 603.1 L1288.42 604.23 L1288.84 605.35 L1289.34 606.43 L1289.94 607.54 L1290.73 608.64 L1291.62 609.64 L1292.52 610.5 L1293.39 611.26 L1294.2 611.95 L1294.91 612.59 L1295.51 613.18 L1296.03 613.78 L1296.6 614.51 L1297.2 615.32 L1297.78 616.13 L1298.32 616.94 L1298.8 617.72 L1299.2 618.46 L1299.52 619.15 L1299.75 619.79 L1299.97 620.43 L1300.16 621.12 L1300.3 621.82 L1300.39 622.53 L1300.42 623.24 L1300.41 623.92 L1300.35 624.58 L1300.24 625.2 L1300.1 625.83 L1299.88 626.47 L1299.61 627.12 L1299.27 627.77 L1298.87 628.41 L1298.42 629.04 L1297.9 629.64 L1297.33 630.21 L1296.67 630.76 L1295.91 631.31 L1295.06 631.84 L1294.15 632.34 L1293.2 632.81 L1292.22 633.23 L1291.23 633.59 L1290.24 633.89 L1289.21 634.11 L1288.12 634.29 L1286.98 634.42 L1285.83 634.5 L1284.7 634.52 L1283.59 634.48 L1282.54 634.37 L1281.57 634.2 L1280.65 633.87 L1279.73 633.45 L1278.82 632.96 L1277.95 632.42 L1277.13 631.83 L1276.4 631.22 L1275.77 630.61 L1275.26 630.02 L1274.85 629.44 L1274.5 628.82 L1274.22 628.17 L1273.99 627.49 L1273.83 626.8 L1273.74 626.11 L1273.71 625.45 L1273.75 624.81 L1273.78 624.16 L1273.88 623.46 L1274.06 622.72 L1274.3 621.97 L1274.61 621.23 L1274.98 620.54 L1275.39 619.9 L1275.84 619.33 L1276.39 618.79 L1277.07 618.23 L1277.85 617.68 L1278.69 617.18 L1279.57 616.74 L1280.44 616.37 L1281.28 616.11 L1282.03 615.94 L1282.77 615.89 L1283.59 615.94 L1284.47 616.08 L1285.37 616.31 L1286.27 616.61 L1287.13 616.94 L1287.93 617.29 L1288.62 617.64 L1289.19 617.99 L1289.7 618.4 L1290.16 618.85 L1290.59 619.34 L1290.99 619.86 L1291.35 620.39 L1291.69 620.93 L1292.01 621.42 L1292.27 621.86 L1292.48 622.28 L1292.65 622.71 L1292.8 623.16 L1292.93 623.63 L1293.06 624.12 L1293.2 624.63 L1293.37 625.13 L1294.43 624.87 L1294.36 624.38 L1294.31 623.89 L1294.27 623.39 L1294.22 622.87 L1294.14 622.33 L1294.02 621.76 L1293.84 621.17 L1293.59 620.58 L1293.3 620 L1292.97 619.4 L1292.61 618.78 L1292.19 618.13 L1291.7 617.5 L1291.14 616.87 L1290.5 616.29 L1289.78 615.76 L1289 615.28 L1288.14 614.79 L1287.2 614.33 L1286.19 613.9 L1285.13 613.53 L1284.03 613.25 L1282.91 613.08 L1281.77 613.06 L1280.64 613.2 L1279.5 613.47 L1278.37 613.85 L1277.26 614.32 L1276.18 614.87 L1275.16 615.48 L1274.21 616.14 L1273.36 616.87 L1272.6 617.67 L1271.92 618.55 L1271.32 619.49 L1270.81 620.47 L1270.38 621.48 L1270.05 622.52 L1269.8 623.55 L1269.65 624.59 L1269.68 625.62 L1269.8 626.65 L1270.02 627.67 L1270.33 628.69 L1270.74 629.67 L1271.24 630.63 L1271.84 631.54 L1272.54 632.38 L1273.34 633.15 L1274.24 633.88 L1275.21 634.56 L1276.25 635.19 L1277.35 635.77 L1278.49 636.27 L1279.65 636.68 L1280.83 637 L1282.03 637.3 L1283.27 637.51 L1284.56 637.64 L1285.87 637.7 L1287.17 637.69 L1288.47 637.62 L1289.73 637.49 L1290.96 637.31 L1292.17 637.09 L1293.39 636.79 L1294.6 636.42 L1295.79 635.99 L1296.94 635.51 L1298.04 634.98 L1299.09 634.41 L1300.07 633.79 L1301 633.13 L1301.87 632.4 L1302.69 631.63 L1303.44 630.79 L1304.13 629.91 L1304.75 628.98 L1305.29 628.01 L1305.76 627 L1306.12 625.93 L1306.39 624.82 L1306.58 623.69 L1306.69 622.53 L1306.71 621.36 L1306.64 620.19 L1306.5 619.01 L1306.25 617.81 L1305.84 616.62 L1305.33 615.46 L1304.75 614.35 L1304.12 613.29 L1303.45 612.27 L1302.77 611.29 L1302.09 610.36 L1301.37 609.42 L1300.52 608.44 L1299.59 607.54 L1298.69 606.76 L1297.85 606.05 L1297.1 605.42 L1296.48 604.85 L1296.02 604.35 L1295.66 603.86 L1295.3 603.28 L1294.93 602.6 L1294.6 601.9 L1294.33 601.18 L1294.1 600.46 L1293.93 599.75 L1293.81 599.06 L1293.75 598.38 L1293.66 597.64 L1293.62 596.85 L1293.63 596.07 L1293.69 595.29 L1293.82 594.55 L1294 593.85 L1294.24 593.19 L1294.55 592.59 L1295.03 592.01 L1295.69 591.38 L1296.49 590.74 L1297.4 590.12 L1298.37 589.53 L1299.38 589 L1300.38 588.52 L1301.34 588.12 L1302.3 587.79 L1303.32 587.51 L1304.38 587.29 L1305.45 587.13 L1306.52 587.02 L1307.54 586.97 L1308.5 586.97 L1309.37 587.03 L1310.16 587.21 L1310.92 587.46 L1311.65 587.76 L1312.32 588.11 L1312.93 588.5 L1313.46 588.91 L1313.89 589.33 L1314.22 589.74 L1314.47 590.17 L1314.67 590.68 L1314.83 591.27 L1314.93 591.9 L1314.97 592.56 L1314.95 593.22 L1314.87 593.85 L1314.75 594.4 L1314.61 594.94 L1314.37 595.52 L1314.04 596.14 L1313.64 596.76 L1313.19 597.38 L1312.71 597.96 L1312.22 598.5 L1311.75 598.96 L1311.31 599.35 L1310.83 599.68 L1310.3 599.98 L1309.71 600.26 L1309.09 600.53 L1308.44 600.8 L1307.77 601.09 L1307.12 601.4Z" fill="#6b957c"/>
<text transform="translate(1881.28 543.1) scale(1.0418 0.9051)" font-family='"Liberation Serif", serif' font-size="100" fill="#b9878a" stroke="#b9878a" stroke-width="1.2">h</text>
<g transform="translate(0 0) scale(1)" fill="#6f8893"><path d="M148.34 505.15 L147.86 504.74 L147.41 504.31 L146.93 503.83 L146.42 503.31 L145.84 502.78 L145.2 502.26 L144.46 501.78 L143.68 501.41 L142.94 501.06 L142.18 500.74 L141.36 500.45 L140.47 500.2 L139.51 500.03 L138.48 499.94 L137.39 499.98 L136.27 500.13 L135.08 500.26 L133.8 500.47 L132.43 500.77 L130.99 501.17 L129.52 501.69 L128.04 502.35 L126.59 503.16 L125.22 504.15 L123.98 505.3 L122.81 506.59 L121.69 508.01 L120.64 509.51 L119.67 511.09 L118.81 512.72 L118.07 514.39 L117.49 516.09 L117.2 517.84 L117.1 519.57 L117.15 521.27 L117.33 522.93 L117.62 524.53 L118 526.08 L118.44 527.57 L118.94 529.03 L119.62 530.46 L120.4 531.9 L121.27 533.31 L122.21 534.68 L123.21 535.98 L124.27 537.2 L125.39 538.34 L126.54 539.35 L127.76 540.2 L129.04 540.97 L130.37 541.64 L131.74 542.22 L133.13 542.67 L134.53 542.99 L135.92 543.14 L137.31 543.1 L138.65 542.88 L139.93 542.46 L141.12 541.9 L142.24 541.22 L143.3 540.46 L144.3 539.64 L145.24 538.79 L146.13 537.92 L147 537 L147.81 535.99 L148.55 534.92 L149.25 533.81 L149.93 532.69 L150.59 531.58 L151.26 530.48 L151.94 529.42 L151.06 528.78 L150.25 529.77 L149.45 530.81 L148.67 531.85 L147.9 532.87 L147.12 533.85 L146.32 534.76 L145.52 535.57 L144.67 536.28 L143.74 536.92 L142.76 537.54 L141.77 538.11 L140.78 538.6 L139.82 538.97 L138.9 539.22 L138.06 539.33 L137.29 539.3 L136.52 539.09 L135.69 538.77 L134.81 538.32 L133.91 537.77 L133.03 537.13 L132.17 536.41 L131.37 535.64 L130.66 534.85 L129.98 534.04 L129.29 533.11 L128.61 532.07 L127.97 530.96 L127.37 529.81 L126.85 528.64 L126.41 527.49 L126.06 526.37 L125.68 525.26 L125.34 524.11 L125.06 522.96 L124.85 521.84 L124.73 520.74 L124.7 519.68 L124.76 518.67 L124.91 517.71 L125.08 516.64 L125.41 515.42 L125.86 514.11 L126.43 512.79 L127.07 511.49 L127.77 510.27 L128.49 509.17 L129.18 508.25 L129.88 507.46 L130.72 506.71 L131.7 506.01 L132.76 505.36 L133.86 504.78 L134.96 504.27 L136.01 503.83 L136.93 503.47 L137.73 503.32 L138.46 503.27 L139.14 503.29 L139.81 503.38 L140.46 503.53 L141.1 503.73 L141.73 503.96 L142.32 504.19 L142.77 504.48 L143.14 504.81 L143.51 505.2 L143.88 505.65 L144.28 506.16 L144.7 506.72 L145.17 507.3 L145.66 507.85Z"/><circle cx="146.8" cy="508.2" r="4.4"/></g>
<g transform="translate(618.63 80.58) scale(0.748)" fill="#000"><path d="M148.34 505.15 L147.86 504.74 L147.41 504.31 L146.93 503.83 L146.42 503.31 L145.84 502.78 L145.2 502.26 L144.46 501.78 L143.68 501.41 L142.94 501.06 L142.18 500.74 L141.36 500.45 L140.47 500.2 L139.51 500.03 L138.48 499.94 L137.39 499.98 L136.27 500.13 L135.08 500.26 L133.8 500.47 L132.43 500.77 L130.99 501.17 L129.52 501.69 L128.04 502.35 L126.59 503.16 L125.22 504.15 L123.98 505.3 L122.81 506.59 L121.69 508.01 L120.64 509.51 L119.67 511.09 L118.81 512.72 L118.07 514.39 L117.49 516.09 L117.2 517.84 L117.1 519.57 L117.15 521.27 L117.33 522.93 L117.62 524.53 L118 526.08 L118.44 527.57 L118.94 529.03 L119.62 530.46 L120.4 531.9 L121.27 533.31 L122.21 534.68 L123.21 535.98 L124.27 537.2 L125.39 538.34 L126.54 539.35 L127.76 540.2 L129.04 540.97 L130.37 541.64 L131.74 542.22 L133.13 542.67 L134.53 542.99 L135.92 543.14 L137.31 543.1 L138.65 542.88 L139.93 542.46 L141.12 541.9 L142.24 541.22 L143.3 540.46 L144.3 539.64 L145.24 538.79 L146.13 537.92 L147 537 L147.81 535.99 L148.55 534.92 L149.25 533.81 L149.93 532.69 L150.59 531.58 L151.26 530.48 L151.94 529.42 L151.06 528.78 L150.25 529.77 L149.45 530.81 L148.67 531.85 L147.9 532.87 L147.12 533.85 L146.32 534.76 L145.52 535.57 L144.67 536.28 L143.74 536.92 L142.76 537.54 L141.77 538.11 L140.78 538.6 L139.82 538.97 L138.9 539.22 L138.06 539.33 L137.29 539.3 L136.52 539.09 L135.69 538.77 L134.81 538.32 L133.91 537.77 L133.03 537.13 L132.17 536.41 L131.37 535.64 L130.66 534.85 L129.98 534.04 L129.29 533.11 L128.61 532.07 L127.97 530.96 L127.37 529.81 L126.85 528.64 L126.41 527.49 L126.06 526.37 L125.68 525.26 L125.34 524.11 L125.06 522.96 L124.85 521.84 L124.73 520.74 L124.7 519.68 L124.76 518.67 L124.91 517.71 L125.08 516.64 L125.41 515.42 L125.86 514.11 L126.43 512.79 L127.07 511.49 L127.77 510.27 L128.49 509.17 L129.18 508.25 L129.88 507.46 L130.72 506.71 L131.7 506.01 L132.76 505.36 L133.86 504.78 L134.96 504.27 L136.01 503.83 L136.93 503.47 L137.73 503.32 L138.46 503.27 L139.14 503.29 L139.81 503.38 L140.46 503.53 L141.1 503.73 L141.73 503.96 L142.32 504.19 L142.77 504.48 L143.14 504.81 L143.51 505.2 L143.88 505.65 L144.28 506.16 L144.7 506.72 L145.17 507.3 L145.66 507.85Z"/><circle cx="146.8" cy="508.2" r="4.4"/></g>
<g transform="translate(423.38 23.88) scale(0.72)" fill="#000"><path d="M148.34 505.15 L147.86 504.74 L147.41 504.31 L146.93 503.83 L146.42 503.31 L145.84 502.78 L145.2 502.26 L144.46 501.78 L143.68 501.41 L142.94 501.06 L142.18 500.74 L141.36 500.45 L140.47 500.2 L139.51 500.03 L138.48 499.94 L137.39 499.98 L136.27 500.13 L135.08 500.26 L133.8 500.47 L132.43 500.77 L130.99 501.17 L129.52 501.69 L128.04 502.35 L126.59 503.16 L125.22 504.15 L123.98 505.3 L122.81 506.59 L121.69 508.01 L120.64 509.51 L119.67 511.09 L118.81 512.72 L118.07 514.39 L117.49 516.09 L117.2 517.84 L117.1 519.57 L117.15 521.27 L117.33 522.93 L117.62 524.53 L118 526.08 L118.44 527.57 L118.94 529.03 L119.62 530.46 L120.4 531.9 L121.27 533.31 L122.21 534.68 L123.21 535.98 L124.27 537.2 L125.39 538.34 L126.54 539.35 L127.76 540.2 L129.04 540.97 L130.37 541.64 L131.74 542.22 L133.13 542.67 L134.53 542.99 L135.92 543.14 L137.31 543.1 L138.65 542.88 L139.93 542.46 L141.12 541.9 L142.24 541.22 L143.3 540.46 L144.3 539.64 L145.24 538.79 L146.13 537.92 L147 537 L147.81 535.99 L148.55 534.92 L149.25 533.81 L149.93 532.69 L150.59 531.58 L151.26 530.48 L151.94 529.42 L151.06 528.78 L150.25 529.77 L149.45 530.81 L148.67 531.85 L147.9 532.87 L147.12 533.85 L146.32 534.76 L145.52 535.57 L144.67 536.28 L143.74 536.92 L142.76 537.54 L141.77 538.11 L140.78 538.6 L139.82 538.97 L138.9 539.22 L138.06 539.33 L137.29 539.3 L136.52 539.09 L135.69 538.77 L134.81 538.32 L133.91 537.77 L133.03 537.13 L132.17 536.41 L131.37 535.64 L130.66 534.85 L129.98 534.04 L129.29 533.11 L128.61 532.07 L127.97 530.96 L127.37 529.81 L126.85 528.64 L126.41 527.49 L126.06 526.37 L125.68 525.26 L125.34 524.11 L125.06 522.96 L124.85 521.84 L124.73 520.74 L124.7 519.68 L124.76 518.67 L124.91 517.71 L125.08 516.64 L125.41 515.42 L125.86 514.11 L126.43 512.79 L127.07 511.49 L127.77 510.27 L128.49 509.17 L129.18 508.25 L129.88 507.46 L130.72 506.71 L131.7 506.01 L132.76 505.36 L133.86 504.78 L134.96 504.27 L136.01 503.83 L136.93 503.47 L137.73 503.32 L138.46 503.27 L139.14 503.29 L139.81 503.38 L140.46 503.53 L141.1 503.73 L141.73 503.96 L142.32 504.19 L142.77 504.48 L143.14 504.81 L143.51 505.2 L143.88 505.65 L144.28 506.16 L144.7 506.72 L145.17 507.3 L145.66 507.85Z"/><circle cx="146.8" cy="508.2" r="4.4"/></g>
<text transform="translate(1414.03 416.1) scale(0.6834 0.6731)" font-family='"Liberation Serif", serif' font-size="100" fill="#000" stroke="#000" stroke-width="1.2">h</text>
<text transform="translate(1239.13 486.5) scale(0.6813 0.6702)" font-family='"Liberation Serif", serif' font-size="100" fill="#000" stroke="#000" stroke-width="1.2">h</text>
<g transform="translate(0 0)"><path d="M883.18 343.08 L883.35 342.2 L883.49 341.27 L883.6 340.38 L883.72 339.56 L883.86 338.82 L884.02 338.2 L884.2 337.72 L884.42 337.36 L884.7 336.95 L885.07 336.48 L885.51 336.03 L885.97 335.62 L886.42 335.29 L886.8 335.07 L887.07 334.98 L887.17 334.97 L887.29 334.99 L887.54 335.03 L887.86 335.14 L888.21 335.3 L888.58 335.53 L888.95 335.83 L889.29 336.18 L889.61 336.61 L889.95 337.11 L890.28 337.72 L890.61 338.45 L890.93 339.33 L891.25 340.35 L891.57 341.54 L891.9 342.9 L892.25 344.41 L892.62 346.13 L892.98 348.06 L893.34 350.19 L893.69 352.45 L894.05 354.78 L894.4 357.14 L894.76 359.48 L895.12 361.73 L895.45 363.95 L895.76 366.24 L896.07 368.57 L896.39 370.89 L896.71 373.18 L897.05 375.38 L897.41 377.46 L897.8 379.37 L898.21 381.13 L898.63 382.79 L899.06 384.36 L899.52 385.82 L900 387.18 L900.51 388.43 L901.05 389.57 L901.66 390.6 L902.37 391.51 L903.18 392.26 L904.07 392.85 L905.02 393.25 L905.98 393.45 L906.94 393.46 L907.85 393.3 L908.78 392.94 L909.64 392.29 L910.31 391.49 L910.86 390.63 L911.34 389.74 L911.76 388.84 L912.14 387.97 L912.45 387.19 L912.71 386.52 L912.93 385.9 L913.08 385.3 L913.17 384.75 L913.22 384.26 L913.23 383.81 L913.23 383.41 L913.24 383.03 L913.28 382.62 L911.32 382.18 L911.17 382.62 L911.04 383.06 L910.92 383.46 L910.81 383.82 L910.68 384.16 L910.53 384.5 L910.35 384.85 L910.09 385.28 L909.74 385.86 L909.32 386.56 L908.87 387.3 L908.4 388.02 L907.93 388.67 L907.49 389.17 L907.16 389.44 L907.02 389.46 L906.93 389.45 L906.75 389.44 L906.57 389.4 L906.38 389.33 L906.18 389.2 L905.93 388.99 L905.66 388.67 L905.34 388.2 L904.97 387.54 L904.57 386.67 L904.16 385.63 L903.75 384.44 L903.35 383.11 L902.96 381.65 L902.57 380.09 L902.2 378.43 L901.85 376.64 L901.52 374.66 L901.2 372.52 L900.9 370.28 L900.6 367.97 L900.3 365.64 L899.99 363.32 L899.68 361.07 L899.39 358.83 L899.11 356.5 L898.83 354.14 L898.55 351.78 L898.26 349.47 L897.97 347.28 L897.66 345.23 L897.35 343.39 L897.03 341.77 L896.73 340.31 L896.42 338.97 L896.08 337.72 L895.72 336.56 L895.29 335.45 L894.79 334.4 L894.19 333.39 L893.44 332.46 L892.59 331.64 L891.67 330.95 L890.7 330.4 L889.69 329.98 L888.64 329.7 L887.57 329.57 L886.43 329.63 L885.29 329.93 L884.26 330.42 L883.35 331.03 L882.53 331.72 L881.78 332.47 L881.11 333.28 L880.51 334.12 L879.98 335.04 L879.59 336.07 L879.34 337.12 L879.21 338.13 L879.14 339.1 L879.12 340.03 L879.1 340.9 L879.08 341.72 L879.02 342.52Z"/><path d="M873 394.9L882.4 394.9L896.6 364.9L894 354.4Z"/></g>
<g transform="translate(-406.1 -2.8)"><path d="M883.18 343.08 L883.35 342.2 L883.49 341.27 L883.6 340.38 L883.72 339.56 L883.86 338.82 L884.02 338.2 L884.2 337.72 L884.42 337.36 L884.7 336.95 L885.07 336.48 L885.51 336.03 L885.97 335.62 L886.42 335.29 L886.8 335.07 L887.07 334.98 L887.17 334.97 L887.29 334.99 L887.54 335.03 L887.86 335.14 L888.21 335.3 L888.58 335.53 L888.95 335.83 L889.29 336.18 L889.61 336.61 L889.95 337.11 L890.28 337.72 L890.61 338.45 L890.93 339.33 L891.25 340.35 L891.57 341.54 L891.9 342.9 L892.25 344.41 L892.62 346.13 L892.98 348.06 L893.34 350.19 L893.69 352.45 L894.05 354.78 L894.4 357.14 L894.76 359.48 L895.12 361.73 L895.45 363.95 L895.76 366.24 L896.07 368.57 L896.39 370.89 L896.71 373.18 L897.05 375.38 L897.41 377.46 L897.8 379.37 L898.21 381.13 L898.63 382.79 L899.06 384.36 L899.52 385.82 L900 387.18 L900.51 388.43 L901.05 389.57 L901.66 390.6 L902.37 391.51 L903.18 392.26 L904.07 392.85 L905.02 393.25 L905.98 393.45 L906.94 393.46 L907.85 393.3 L908.78 392.94 L909.64 392.29 L910.31 391.49 L910.86 390.63 L911.34 389.74 L911.76 388.84 L912.14 387.97 L912.45 387.19 L912.71 386.52 L912.93 385.9 L913.08 385.3 L913.17 384.75 L913.22 384.26 L913.23 383.81 L913.23 383.41 L913.24 383.03 L913.28 382.62 L911.32 382.18 L911.17 382.62 L911.04 383.06 L910.92 383.46 L910.81 383.82 L910.68 384.16 L910.53 384.5 L910.35 384.85 L910.09 385.28 L909.74 385.86 L909.32 386.56 L908.87 387.3 L908.4 388.02 L907.93 388.67 L907.49 389.17 L907.16 389.44 L907.02 389.46 L906.93 389.45 L906.75 389.44 L906.57 389.4 L906.38 389.33 L906.18 389.2 L905.93 388.99 L905.66 388.67 L905.34 388.2 L904.97 387.54 L904.57 386.67 L904.16 385.63 L903.75 384.44 L903.35 383.11 L902.96 381.65 L902.57 380.09 L902.2 378.43 L901.85 376.64 L901.52 374.66 L901.2 372.52 L900.9 370.28 L900.6 367.97 L900.3 365.64 L899.99 363.32 L899.68 361.07 L899.39 358.83 L899.11 356.5 L898.83 354.14 L898.55 351.78 L898.26 349.47 L897.97 347.28 L897.66 345.23 L897.35 343.39 L897.03 341.77 L896.73 340.31 L896.42 338.97 L896.08 337.72 L895.72 336.56 L895.29 335.45 L894.79 334.4 L894.19 333.39 L893.44 332.46 L892.59 331.64 L891.67 330.95 L890.7 330.4 L889.69 329.98 L888.64 329.7 L887.57 329.57 L886.43 329.63 L885.29 329.93 L884.26 330.42 L883.35 331.03 L882.53 331.72 L881.78 332.47 L881.11 333.28 L880.51 334.12 L879.98 335.04 L879.59 336.07 L879.34 337.12 L879.21 338.13 L879.14 339.1 L879.12 340.03 L879.1 340.9 L879.08 341.72 L879.02 342.52Z"/><path d="M873 394.9L882.4 394.9L896.6 364.9L894 354.4Z"/></g>
<g transform="translate(500 -2.3)"><path d="M883.18 343.08 L883.35 342.2 L883.49 341.27 L883.6 340.38 L883.72 339.56 L883.86 338.82 L884.02 338.2 L884.2 337.72 L884.42 337.36 L884.7 336.95 L885.07 336.48 L885.51 336.03 L885.97 335.62 L886.42 335.29 L886.8 335.07 L887.07 334.98 L887.17 334.97 L887.29 334.99 L887.54 335.03 L887.86 335.14 L888.21 335.3 L888.58 335.53 L888.95 335.83 L889.29 336.18 L889.61 336.61 L889.95 337.11 L890.28 337.72 L890.61 338.45 L890.93 339.33 L891.25 340.35 L891.57 341.54 L891.9 342.9 L892.25 344.41 L892.62 346.13 L892.98 348.06 L893.34 350.19 L893.69 352.45 L894.05 354.78 L894.4 357.14 L894.76 359.48 L895.12 361.73 L895.45 363.95 L895.76 366.24 L896.07 368.57 L896.39 370.89 L896.71 373.18 L897.05 375.38 L897.41 377.46 L897.8 379.37 L898.21 381.13 L898.63 382.79 L899.06 384.36 L899.52 385.82 L900 387.18 L900.51 388.43 L901.05 389.57 L901.66 390.6 L902.37 391.51 L903.18 392.26 L904.07 392.85 L905.02 393.25 L905.98 393.45 L906.94 393.46 L907.85 393.3 L908.78 392.94 L909.64 392.29 L910.31 391.49 L910.86 390.63 L911.34 389.74 L911.76 388.84 L912.14 387.97 L912.45 387.19 L912.71 386.52 L912.93 385.9 L913.08 385.3 L913.17 384.75 L913.22 384.26 L913.23 383.81 L913.23 383.41 L913.24 383.03 L913.28 382.62 L911.32 382.18 L911.17 382.62 L911.04 383.06 L910.92 383.46 L910.81 383.82 L910.68 384.16 L910.53 384.5 L910.35 384.85 L910.09 385.28 L909.74 385.86 L909.32 386.56 L908.87 387.3 L908.4 388.02 L907.93 388.67 L907.49 389.17 L907.16 389.44 L907.02 389.46 L906.93 389.45 L906.75 389.44 L906.57 389.4 L906.38 389.33 L906.18 389.2 L905.93 388.99 L905.66 388.67 L905.34 388.2 L904.97 387.54 L904.57 386.67 L904.16 385.63 L903.75 384.44 L903.35 383.11 L902.96 381.65 L902.57 380.09 L902.2 378.43 L901.85 376.64 L901.52 374.66 L901.2 372.52 L900.9 370.28 L900.6 367.97 L900.3 365.64 L899.99 363.32 L899.68 361.07 L899.39 358.83 L899.11 356.5 L898.83 354.14 L898.55 351.78 L898.26 349.47 L897.97 347.28 L897.66 345.23 L897.35 343.39 L897.03 341.77 L896.73 340.31 L896.42 338.97 L896.08 337.72 L895.72 336.56 L895.29 335.45 L894.79 334.4 L894.19 333.39 L893.44 332.46 L892.59 331.64 L891.67 330.95 L890.7 330.4 L889.69 329.98 L888.64 329.7 L887.57 329.57 L886.43 329.63 L885.29 329.93 L884.26 330.42 L883.35 331.03 L882.53 331.72 L881.78 332.47 L881.11 333.28 L880.51 334.12 L879.98 335.04 L879.59 336.07 L879.34 337.12 L879.21 338.13 L879.14 339.1 L879.12 340.03 L879.1 340.9 L879.08 341.72 L879.02 342.52Z"/><path d="M873 394.9L882.4 394.9L896.6 364.9L894 354.4Z"/></g>
<g transform="translate(0 0)"><path d="M668.18 420.07 L667.35 420.09 L666.53 420.06 L665.69 420.03 L664.81 420.01 L663.89 420.02 L662.93 420.11 L661.92 420.3 L660.89 420.61 L659.84 420.98 L658.78 421.43 L657.7 421.95 L656.61 422.55 L655.53 423.22 L654.48 423.96 L653.45 424.77 L652.47 425.65 L651.61 426.68 L650.82 427.77 L650.09 428.9 L649.42 430.06 L648.81 431.2 L648.26 432.33 L647.76 433.41 L647.31 434.43 L646.87 435.4 L646.49 436.37 L646.15 437.33 L645.86 438.31 L645.62 439.3 L645.44 440.3 L645.29 441.33 L645.18 442.39 L645.28 443.51 L645.42 444.69 L645.59 445.94 L645.8 447.22 L646.07 448.53 L646.39 449.85 L646.79 451.16 L647.25 452.43 L647.85 453.62 L648.51 454.76 L649.21 455.87 L649.97 456.94 L650.77 457.97 L651.61 458.92 L652.48 459.81 L653.4 460.6 L654.36 461.29 L655.35 461.88 L656.36 462.37 L657.38 462.77 L658.39 463.07 L659.4 463.29 L660.38 463.41 L661.36 463.45 L662.33 463.5 L663.3 463.43 L664.24 463.27 L665.14 463.04 L666 462.75 L666.82 462.42 L667.6 462.06 L668.35 461.67 L669.14 461.26 L669.9 460.79 L670.63 460.27 L671.32 459.72 L671.97 459.17 L672.57 458.62 L673.13 458.09 L673.67 457.58 L674.16 457.03 L674.6 456.48 L674.99 455.93 L675.34 455.41 L675.66 454.92 L675.95 454.45 L676.23 454.01 L676.54 453.55 L673.46 451.45 L673.12 451.94 L672.79 452.45 L672.49 452.92 L672.21 453.37 L671.92 453.8 L671.63 454.21 L671.31 454.61 L670.93 455.02 L670.5 455.51 L670.02 456.04 L669.52 456.56 L668.99 457.08 L668.46 457.57 L667.92 458.01 L667.39 458.4 L666.85 458.73 L666.23 459 L665.57 459.25 L664.9 459.46 L664.23 459.64 L663.59 459.76 L662.97 459.82 L662.39 459.82 L661.84 459.75 L661.28 459.5 L660.69 459.2 L660.1 458.84 L659.52 458.43 L658.97 457.98 L658.46 457.48 L658 456.96 L657.6 456.4 L657.21 455.77 L656.81 455.05 L656.41 454.24 L656.03 453.37 L655.68 452.46 L655.38 451.54 L655.13 450.63 L654.95 449.77 L654.76 448.95 L654.61 448.05 L654.5 447.09 L654.42 446.09 L654.38 445.08 L654.36 444.08 L654.38 443.11 L654.42 442.21 L654.3 441.42 L654.2 440.72 L654.13 440.09 L654.08 439.51 L654.06 438.91 L654.09 438.28 L654.16 437.58 L654.29 436.77 L654.52 435.86 L654.79 434.89 L655.1 433.89 L655.45 432.88 L655.83 431.9 L656.25 430.97 L656.68 430.11 L657.13 429.35 L657.58 428.57 L658.14 427.77 L658.77 426.97 L659.45 426.2 L660.17 425.46 L660.9 424.77 L661.63 424.14 L662.31 423.59 L662.97 423.18 L663.63 422.87 L664.35 422.6 L665.1 422.38 L665.9 422.18 L666.73 421.99 L667.58 421.78 L668.42 421.53Z"/><path d="M682.61 421.72 L683.36 422.03 L684.13 422.31 L684.87 422.58 L685.59 422.84 L686.26 423.12 L686.9 423.44 L687.49 423.8 L688.08 424.23 L688.69 424.81 L689.34 425.45 L689.99 426.14 L690.62 426.86 L691.21 427.61 L691.75 428.38 L692.2 429.15 L692.56 429.9 L692.93 430.64 L693.28 431.47 L693.61 432.38 L693.91 433.33 L694.17 434.31 L694.39 435.29 L694.58 436.25 L694.71 437.14 L694.79 437.95 L694.81 438.71 L694.8 439.44 L694.75 440.17 L694.67 440.91 L694.56 441.68 L694.42 442.48 L694.26 443.32 L694.22 444.19 L694.16 445.08 L694.07 445.99 L693.95 446.9 L693.8 447.81 L693.62 448.7 L693.41 449.56 L693.17 450.43 L693 451.4 L692.8 452.42 L692.58 453.42 L692.34 454.38 L692.08 455.27 L691.81 456.06 L691.54 456.73 L691.27 457.28 L690.88 457.73 L690.38 458.16 L689.78 458.57 L689.1 458.93 L688.37 459.25 L687.63 459.51 L686.89 459.71 L686.23 459.85 L685.62 459.83 L684.99 459.72 L684.32 459.54 L683.64 459.29 L682.95 458.98 L682.26 458.65 L681.6 458.29 L681 457.95 L680.49 457.58 L680.03 457.19 L679.58 456.76 L679.15 456.31 L678.75 455.84 L678.37 455.37 L678.02 454.91 L677.7 454.49 L677.45 454.15 L677.26 453.86 L677.11 453.57 L676.96 453.27 L676.82 452.94 L676.66 452.57 L676.48 452.16 L676.28 451.76 L673.32 453.24 L673.49 453.58 L673.64 453.9 L673.79 454.25 L673.96 454.65 L674.17 455.08 L674.43 455.54 L674.74 456.03 L675.1 456.51 L675.49 456.97 L675.92 457.45 L676.38 457.96 L676.9 458.48 L677.45 459.01 L678.06 459.52 L678.72 460.02 L679.4 460.45 L680.08 460.88 L680.79 461.32 L681.56 461.75 L682.39 462.16 L683.27 462.53 L684.2 462.84 L685.18 463.06 L686.17 463.15 L687.17 463.23 L688.19 463.23 L689.26 463.15 L690.35 462.98 L691.46 462.71 L692.58 462.32 L693.67 461.8 L694.73 461.12 L695.76 460.32 L696.69 459.39 L697.53 458.39 L698.3 457.35 L699 456.28 L699.65 455.21 L700.26 454.18 L700.83 453.17 L701.26 452.07 L701.65 450.92 L702 449.76 L702.3 448.6 L702.57 447.44 L702.79 446.3 L702.98 445.17 L703.14 444.08 L703.12 443.01 L703.08 441.96 L703 440.9 L702.88 439.83 L702.71 438.75 L702.49 437.66 L702.22 436.56 L701.89 435.46 L701.51 434.36 L701.1 433.23 L700.63 432.08 L700.11 430.92 L699.53 429.76 L698.9 428.63 L698.2 427.54 L697.44 426.5 L696.54 425.6 L695.6 424.77 L694.62 424.02 L693.63 423.35 L692.63 422.75 L691.64 422.22 L690.67 421.76 L689.72 421.37 L688.78 421.01 L687.85 420.76 L686.96 420.6 L686.11 420.51 L685.3 420.46 L684.52 420.42 L683.76 420.37 L682.99 420.28Z"/><path d="M674.55 428.1 L674.21 428.35 L673.87 428.59 L673.53 428.82 L673.19 429.05 L672.85 429.27 L672.5 429.51 L672.15 429.79 L671.8 430.1 L671.59 430.48 L671.38 430.89 L671.17 431.33 L670.95 431.81 L670.73 432.33 L670.5 432.88 L670.28 433.46 L670.06 434.05 L669.98 434.67 L669.89 435.34 L669.79 436.08 L669.69 436.87 L669.6 437.7 L669.51 438.57 L669.44 439.47 L669.4 440.38 L669.6 441.29 L669.82 442.16 L670.06 443 L670.31 443.81 L670.56 444.57 L670.8 445.3 L671.04 446 L671.26 446.66 L671.52 447.34 L671.78 448.03 L672.03 448.71 L672.29 449.38 L672.53 450.04 L672.78 450.67 L673.02 451.28 L673.25 451.86 L673.33 452.4 L673.4 452.91 L673.46 453.4 L673.52 453.87 L673.58 454.34 L673.63 454.82 L673.69 455.3 L673.75 455.79 L676.45 455.81 L676.51 455.32 L676.58 454.85 L676.65 454.38 L676.72 453.9 L676.78 453.41 L676.85 452.89 L676.9 452.33 L676.95 451.74 L677.14 451.11 L677.32 450.46 L677.5 449.78 L677.68 449.08 L677.85 448.36 L678.01 447.63 L678.18 446.89 L678.34 446.14 L678.45 445.35 L678.54 444.54 L678.63 443.74 L678.72 442.97 L678.81 442.22 L678.92 441.5 L679.05 440.84 L679.2 440.22 L679.16 439.6 L679.13 438.93 L679.12 438.22 L679.12 437.48 L679.13 436.74 L679.14 435.99 L679.15 435.25 L679.14 434.55 L678.98 433.91 L678.82 433.31 L678.65 432.74 L678.49 432.2 L678.32 431.68 L678.15 431.19 L677.98 430.73 L677.8 430.3 L677.47 429.9 L677.13 429.55 L676.78 429.26 L676.44 429 L676.09 428.78 L675.74 428.56 L675.4 428.34 L675.05 428.1Z"/></g>
<g transform="translate(533.5 0)"><path d="M668.18 420.07 L667.35 420.09 L666.53 420.06 L665.69 420.03 L664.81 420.01 L663.89 420.02 L662.93 420.11 L661.92 420.3 L660.89 420.61 L659.84 420.98 L658.78 421.43 L657.7 421.95 L656.61 422.55 L655.53 423.22 L654.48 423.96 L653.45 424.77 L652.47 425.65 L651.61 426.68 L650.82 427.77 L650.09 428.9 L649.42 430.06 L648.81 431.2 L648.26 432.33 L647.76 433.41 L647.31 434.43 L646.87 435.4 L646.49 436.37 L646.15 437.33 L645.86 438.31 L645.62 439.3 L645.44 440.3 L645.29 441.33 L645.18 442.39 L645.28 443.51 L645.42 444.69 L645.59 445.94 L645.8 447.22 L646.07 448.53 L646.39 449.85 L646.79 451.16 L647.25 452.43 L647.85 453.62 L648.51 454.76 L649.21 455.87 L649.97 456.94 L650.77 457.97 L651.61 458.92 L652.48 459.81 L653.4 460.6 L654.36 461.29 L655.35 461.88 L656.36 462.37 L657.38 462.77 L658.39 463.07 L659.4 463.29 L660.38 463.41 L661.36 463.45 L662.33 463.5 L663.3 463.43 L664.24 463.27 L665.14 463.04 L666 462.75 L666.82 462.42 L667.6 462.06 L668.35 461.67 L669.14 461.26 L669.9 460.79 L670.63 460.27 L671.32 459.72 L671.97 459.17 L672.57 458.62 L673.13 458.09 L673.67 457.58 L674.16 457.03 L674.6 456.48 L674.99 455.93 L675.34 455.41 L675.66 454.92 L675.95 454.45 L676.23 454.01 L676.54 453.55 L673.46 451.45 L673.12 451.94 L672.79 452.45 L672.49 452.92 L672.21 453.37 L671.92 453.8 L671.63 454.21 L671.31 454.61 L670.93 455.02 L670.5 455.51 L670.02 456.04 L669.52 456.56 L668.99 457.08 L668.46 457.57 L667.92 458.01 L667.39 458.4 L666.85 458.73 L666.23 459 L665.57 459.25 L664.9 459.46 L664.23 459.64 L663.59 459.76 L662.97 459.82 L662.39 459.82 L661.84 459.75 L661.28 459.5 L660.69 459.2 L660.1 458.84 L659.52 458.43 L658.97 457.98 L658.46 457.48 L658 456.96 L657.6 456.4 L657.21 455.77 L656.81 455.05 L656.41 454.24 L656.03 453.37 L655.68 452.46 L655.38 451.54 L655.13 450.63 L654.95 449.77 L654.76 448.95 L654.61 448.05 L654.5 447.09 L654.42 446.09 L654.38 445.08 L654.36 444.08 L654.38 443.11 L654.42 442.21 L654.3 441.42 L654.2 440.72 L654.13 440.09 L654.08 439.51 L654.06 438.91 L654.09 438.28 L654.16 437.58 L654.29 436.77 L654.52 435.86 L654.79 434.89 L655.1 433.89 L655.45 432.88 L655.83 431.9 L656.25 430.97 L656.68 430.11 L657.13 429.35 L657.58 428.57 L658.14 427.77 L658.77 426.97 L659.45 426.2 L660.17 425.46 L660.9 424.77 L661.63 424.14 L662.31 423.59 L662.97 423.18 L663.63 422.87 L664.35 422.6 L665.1 422.38 L665.9 422.18 L666.73 421.99 L667.58 421.78 L668.42 421.53Z"/><path d="M682.61 421.72 L683.36 422.03 L684.13 422.31 L684.87 422.58 L685.59 422.84 L686.26 423.12 L686.9 423.44 L687.49 423.8 L688.08 424.23 L688.69 424.81 L689.34 425.45 L689.99 426.14 L690.62 426.86 L691.21 427.61 L691.75 428.38 L692.2 429.15 L692.56 429.9 L692.93 430.64 L693.28 431.47 L693.61 432.38 L693.91 433.33 L694.17 434.31 L694.39 435.29 L694.58 436.25 L694.71 437.14 L694.79 437.95 L694.81 438.71 L694.8 439.44 L694.75 440.17 L694.67 440.91 L694.56 441.68 L694.42 442.48 L694.26 443.32 L694.22 444.19 L694.16 445.08 L694.07 445.99 L693.95 446.9 L693.8 447.81 L693.62 448.7 L693.41 449.56 L693.17 450.43 L693 451.4 L692.8 452.42 L692.58 453.42 L692.34 454.38 L692.08 455.27 L691.81 456.06 L691.54 456.73 L691.27 457.28 L690.88 457.73 L690.38 458.16 L689.78 458.57 L689.1 458.93 L688.37 459.25 L687.63 459.51 L686.89 459.71 L686.23 459.85 L685.62 459.83 L684.99 459.72 L684.32 459.54 L683.64 459.29 L682.95 458.98 L682.26 458.65 L681.6 458.29 L681 457.95 L680.49 457.58 L680.03 457.19 L679.58 456.76 L679.15 456.31 L678.75 455.84 L678.37 455.37 L678.02 454.91 L677.7 454.49 L677.45 454.15 L677.26 453.86 L677.11 453.57 L676.96 453.27 L676.82 452.94 L676.66 452.57 L676.48 452.16 L676.28 451.76 L673.32 453.24 L673.49 453.58 L673.64 453.9 L673.79 454.25 L673.96 454.65 L674.17 455.08 L674.43 455.54 L674.74 456.03 L675.1 456.51 L675.49 456.97 L675.92 457.45 L676.38 457.96 L676.9 458.48 L677.45 459.01 L678.06 459.52 L678.72 460.02 L679.4 460.45 L680.08 460.88 L680.79 461.32 L681.56 461.75 L682.39 462.16 L683.27 462.53 L684.2 462.84 L685.18 463.06 L686.17 463.15 L687.17 463.23 L688.19 463.23 L689.26 463.15 L690.35 462.98 L691.46 462.71 L692.58 462.32 L693.67 461.8 L694.73 461.12 L695.76 460.32 L696.69 459.39 L697.53 458.39 L698.3 457.35 L699 456.28 L699.65 455.21 L700.26 454.18 L700.83 453.17 L701.26 452.07 L701.65 450.92 L702 449.76 L702.3 448.6 L702.57 447.44 L702.79 446.3 L702.98 445.17 L703.14 444.08 L703.12 443.01 L703.08 441.96 L703 440.9 L702.88 439.83 L702.71 438.75 L702.49 437.66 L702.22 436.56 L701.89 435.46 L701.51 434.36 L701.1 433.23 L700.63 432.08 L700.11 430.92 L699.53 429.76 L698.9 428.63 L698.2 427.54 L697.44 426.5 L696.54 425.6 L695.6 424.77 L694.62 424.02 L693.63 423.35 L692.63 422.75 L691.64 422.22 L690.67 421.76 L689.72 421.37 L688.78 421.01 L687.85 420.76 L686.96 420.6 L686.11 420.51 L685.3 420.46 L684.52 420.42 L683.76 420.37 L682.99 420.28Z"/><path d="M674.55 428.1 L674.21 428.35 L673.87 428.59 L673.53 428.82 L673.19 429.05 L672.85 429.27 L672.5 429.51 L672.15 429.79 L671.8 430.1 L671.59 430.48 L671.38 430.89 L671.17 431.33 L670.95 431.81 L670.73 432.33 L670.5 432.88 L670.28 433.46 L670.06 434.05 L669.98 434.67 L669.89 435.34 L669.79 436.08 L669.69 436.87 L669.6 437.7 L669.51 438.57 L669.44 439.47 L669.4 440.38 L669.6 441.29 L669.82 442.16 L670.06 443 L670.31 443.81 L670.56 444.57 L670.8 445.3 L671.04 446 L671.26 446.66 L671.52 447.34 L671.78 448.03 L672.03 448.71 L672.29 449.38 L672.53 450.04 L672.78 450.67 L673.02 451.28 L673.25 451.86 L673.33 452.4 L673.4 452.91 L673.46 453.4 L673.52 453.87 L673.58 454.34 L673.63 454.82 L673.69 455.3 L673.75 455.79 L676.45 455.81 L676.51 455.32 L676.58 454.85 L676.65 454.38 L676.72 453.9 L676.78 453.41 L676.85 452.89 L676.9 452.33 L676.95 451.74 L677.14 451.11 L677.32 450.46 L677.5 449.78 L677.68 449.08 L677.85 448.36 L678.01 447.63 L678.18 446.89 L678.34 446.14 L678.45 445.35 L678.54 444.54 L678.63 443.74 L678.72 442.97 L678.81 442.22 L678.92 441.5 L679.05 440.84 L679.2 440.22 L679.16 439.6 L679.13 438.93 L679.12 438.22 L679.12 437.48 L679.13 436.74 L679.14 435.99 L679.15 435.25 L679.14 434.55 L678.98 433.91 L678.82 433.31 L678.65 432.74 L678.49 432.2 L678.32 431.68 L678.15 431.19 L677.98 430.73 L677.8 430.3 L677.47 429.9 L677.13 429.55 L676.78 429.26 L676.44 429 L676.09 428.78 L675.74 428.56 L675.4 428.34 L675.05 428.1Z"/></g>
<path d="M915.38 408.2 L915.97 408.82 L916.52 409.5 L917.1 410.26 L917.72 411.04 L918.4 411.82 L919.19 412.53 L920.12 413.14 L921.18 413.51 L922.26 413.73 L923.38 413.8 L924.55 413.73 L925.75 413.53 L926.96 413.21 L928.15 412.76 L929.32 412.18 L930.41 411.46 L931.45 410.64 L932.42 409.7 L933.34 408.64 L934.21 407.49 L935.04 406.27 L935.82 404.97 L936.55 403.62 L937.26 402.2 L937.89 400.68 L938.45 399.08 L938.97 397.44 L939.44 395.75 L939.88 394.03 L940.32 392.28 L940.76 390.51 L941.23 388.7 L941.67 386.78 L942.11 384.77 L942.55 382.7 L942.98 380.6 L943.42 378.49 L943.86 376.38 L944.31 374.29 L944.77 372.24 L945.22 370.17 L945.68 368.06 L946.15 365.94 L946.62 363.83 L947.1 361.75 L947.58 359.72 L948.06 357.76 L948.54 355.88 L948.94 354.03 L949.33 352.23 L949.72 350.5 L950.1 348.84 L950.49 347.25 L950.89 345.74 L951.31 344.31 L951.78 342.94 L952.25 341.58 L952.76 340.23 L953.29 338.94 L953.84 337.72 L954.4 336.59 L954.96 335.58 L955.51 334.7 L956.03 333.98 L956.55 333.4 L957.13 332.9 L957.79 332.46 L958.49 332.09 L959.21 331.79 L959.9 331.55 L960.54 331.37 L961.03 331.25 L961.28 331.28 L961.42 331.35 L961.6 331.49 L961.84 331.75 L962.11 332.11 L962.44 332.55 L962.83 333.04 L963.25 333.46 L965.15 331.54 L964.84 331.24 L964.58 330.91 L964.27 330.49 L963.9 330.01 L963.43 329.51 L962.82 329.04 L962.03 328.68 L961.17 328.55 L960.33 328.47 L959.44 328.46 L958.46 328.53 L957.41 328.71 L956.31 329 L955.18 329.44 L954.05 330.04 L952.97 330.82 L951.99 331.74 L951.06 332.77 L950.17 333.91 L949.32 335.14 L948.5 336.45 L947.71 337.81 L946.95 339.22 L946.22 340.66 L945.56 342.18 L944.93 343.77 L944.35 345.4 L943.79 347.07 L943.25 348.78 L942.73 350.52 L942.2 352.3 L941.66 354.12 L941.17 356.05 L940.68 358.06 L940.19 360.14 L939.7 362.26 L939.22 364.39 L938.75 366.54 L938.28 368.66 L937.83 370.76 L937.42 372.88 L937.02 375.03 L936.63 377.18 L936.26 379.31 L935.88 381.41 L935.52 383.45 L935.15 385.41 L934.77 387.3 L934.44 389.17 L934.13 390.99 L933.83 392.74 L933.54 394.41 L933.23 395.99 L932.9 397.49 L932.55 398.88 L932.14 400.2 L931.71 401.49 L931.25 402.76 L930.76 403.96 L930.24 405.08 L929.7 406.11 L929.14 407.04 L928.57 407.85 L927.99 408.54 L927.33 409.1 L926.58 409.61 L925.75 410.04 L924.89 410.4 L924.02 410.66 L923.19 410.83 L922.44 410.9 L921.82 410.89 L921.37 410.7 L920.93 410.38 L920.45 409.89 L919.94 409.26 L919.41 408.53 L918.85 407.74 L918.24 406.92 L917.62 406.2Z"/><path d="M930.8 352.8H957.8V356.1H930.8Z"/><circle cx="963.8" cy="335.2" r="4.2"/><circle cx="916.5" cy="407.2" r="3.6"/>
<path d="M1012.78 342.13 L1012.16 343.04 L1011.56 343.9 L1010.96 344.75 L1010.37 345.6 L1009.76 346.49 L1009.12 347.44 L1008.46 348.49 L1007.75 349.66 L1007.15 351.03 L1006.51 352.52 L1005.84 354.11 L1005.14 355.77 L1004.43 357.47 L1003.71 359.17 L1003 360.86 L1002.31 362.5 L1001.76 364.16 L1001.2 365.82 L1000.64 367.5 L1000.08 369.17 L999.52 370.83 L998.97 372.48 L998.43 374.12 L997.91 375.7 L997.44 377.29 L996.93 378.95 L996.39 380.64 L995.86 382.34 L995.36 384 L994.93 385.61 L994.59 387.15 L994.39 388.6 L994.44 389.95 L994.64 391.19 L995.01 392.33 L995.54 393.37 L996.24 394.26 L997.09 394.94 L998.02 395.39 L999.01 395.62 L1000.02 395.67 L1000.97 395.51 L1001.85 395.21 L1002.7 394.8 L1003.54 394.31 L1004.37 393.73 L1005.18 393.07 L1005.96 392.34 L1006.76 391.5 L1007.54 390.55 L1008.33 389.52 L1009.11 388.42 L1009.89 387.3 L1010.67 386.17 L1011.44 385.07 L1012.2 384.02 L1011.2 383.18 L1010.3 384.13 L1009.38 385.14 L1008.46 386.16 L1007.55 387.17 L1006.66 388.11 L1005.8 388.97 L1004.99 389.7 L1004.24 390.26 L1003.49 390.69 L1002.75 391.05 L1002.04 391.33 L1001.38 391.51 L1000.82 391.59 L1000.4 391.58 L1000.18 391.49 L1000.19 391.38 L1000.31 391.25 L1000.46 391.15 L1000.63 391.09 L1000.79 391.02 L1000.92 390.87 L1001.04 390.6 L1001.2 390.17 L1001.41 389.6 L1001.64 388.78 L1002.01 387.68 L1002.5 386.35 L1003.08 384.86 L1003.72 383.27 L1004.39 381.62 L1005.06 379.94 L1005.69 378.3 L1006.22 376.69 L1006.76 375.07 L1007.3 373.43 L1007.86 371.77 L1008.42 370.1 L1008.98 368.43 L1009.54 366.76 L1010.09 365.1 L1010.52 363.37 L1010.97 361.6 L1011.42 359.8 L1011.87 358.02 L1012.31 356.27 L1012.73 354.59 L1013.11 353 L1013.45 351.54 L1013.58 350.17 L1013.66 348.92 L1013.72 347.77 L1013.74 346.69 L1013.76 345.65 L1013.77 344.62 L1013.79 343.57 L1013.82 342.47Z"/><path d="M996.3 352.8H1018.8V356.1H996.3Z"/>
<path d="M987.15 329.84 L985.71 331.01 L984.24 332.13 L982.75 333.25 L981.25 334.38 L979.76 335.57 L978.3 336.83 L976.9 338.2 L975.57 339.69 L974.36 341.31 L973.21 343 L972.13 344.77 L971.1 346.6 L970.14 348.47 L969.25 350.37 L968.42 352.28 L967.67 354.19 L967.04 356.13 L966.47 358.09 L965.97 360.07 L965.54 362.09 L965.19 364.12 L964.91 366.19 L964.71 368.28 L964.6 370.4 L964.71 372.56 L964.91 374.76 L965.18 376.99 L965.54 379.22 L965.96 381.43 L966.46 383.59 L967.03 385.69 L967.67 387.7 L968.43 389.61 L969.27 391.45 L970.17 393.23 L971.14 394.94 L972.17 396.59 L973.26 398.17 L974.4 399.69 L975.61 401.16 L976.93 402.54 L978.34 403.82 L979.79 405 L981.27 406.11 L982.77 407.17 L984.26 408.22 L985.73 409.28 L987.16 410.37 L987.84 409.63 L986.6 408.29 L985.31 406.98 L984.02 405.69 L982.75 404.41 L981.53 403.11 L980.38 401.8 L979.33 400.45 L978.39 399.04 L977.5 397.57 L976.65 396.05 L975.87 394.49 L975.15 392.89 L974.49 391.25 L973.9 389.57 L973.38 387.85 L972.93 386.1 L972.49 384.28 L972.11 382.37 L971.78 380.38 L971.53 378.35 L971.33 376.31 L971.22 374.29 L971.17 372.31 L971.2 370.4 L971.17 368.55 L971.21 366.7 L971.33 364.87 L971.52 363.04 L971.77 361.22 L972.1 359.41 L972.48 357.6 L972.93 355.81 L973.39 353.99 L973.92 352.15 L974.52 350.31 L975.19 348.49 L975.91 346.7 L976.7 344.96 L977.54 343.29 L978.43 341.71 L979.37 340.21 L980.41 338.79 L981.55 337.4 L982.77 336.04 L984.04 334.69 L985.33 333.34 L986.61 331.97 L987.85 330.56Z"/><path d="M1020.15 330.56 L1021.39 331.97 L1022.67 333.34 L1023.96 334.69 L1025.23 336.04 L1026.45 337.4 L1027.59 338.79 L1028.63 340.21 L1029.57 341.71 L1030.46 343.29 L1031.3 344.96 L1032.09 346.7 L1032.81 348.49 L1033.48 350.31 L1034.08 352.15 L1034.61 353.99 L1035.07 355.81 L1035.52 357.6 L1035.9 359.41 L1036.23 361.22 L1036.48 363.04 L1036.67 364.87 L1036.79 366.7 L1036.83 368.55 L1036.8 370.4 L1036.83 372.31 L1036.78 374.29 L1036.67 376.31 L1036.47 378.35 L1036.22 380.38 L1035.89 382.37 L1035.51 384.28 L1035.07 386.1 L1034.62 387.85 L1034.1 389.57 L1033.51 391.25 L1032.85 392.89 L1032.13 394.49 L1031.35 396.05 L1030.5 397.57 L1029.61 399.04 L1028.67 400.45 L1027.62 401.8 L1026.47 403.11 L1025.25 404.41 L1023.98 405.69 L1022.69 406.98 L1021.4 408.29 L1020.16 409.63 L1020.84 410.37 L1022.27 409.28 L1023.74 408.22 L1025.23 407.17 L1026.73 406.11 L1028.21 405 L1029.66 403.82 L1031.07 402.54 L1032.39 401.16 L1033.6 399.69 L1034.74 398.17 L1035.83 396.59 L1036.86 394.94 L1037.83 393.23 L1038.73 391.45 L1039.57 389.61 L1040.33 387.7 L1040.97 385.69 L1041.54 383.59 L1042.04 381.43 L1042.46 379.22 L1042.82 376.99 L1043.09 374.76 L1043.29 372.56 L1043.4 370.4 L1043.29 368.28 L1043.09 366.19 L1042.81 364.12 L1042.46 362.09 L1042.03 360.07 L1041.53 358.09 L1040.96 356.13 L1040.33 354.19 L1039.58 352.28 L1038.75 350.37 L1037.86 348.47 L1036.9 346.6 L1035.87 344.77 L1034.79 343 L1033.64 341.31 L1032.43 339.69 L1031.1 338.2 L1029.7 336.83 L1028.24 335.57 L1026.75 334.38 L1025.25 333.25 L1023.76 332.13 L1022.29 331.01 L1020.85 329.84Z"/>
</g>
</svg></body></html>
